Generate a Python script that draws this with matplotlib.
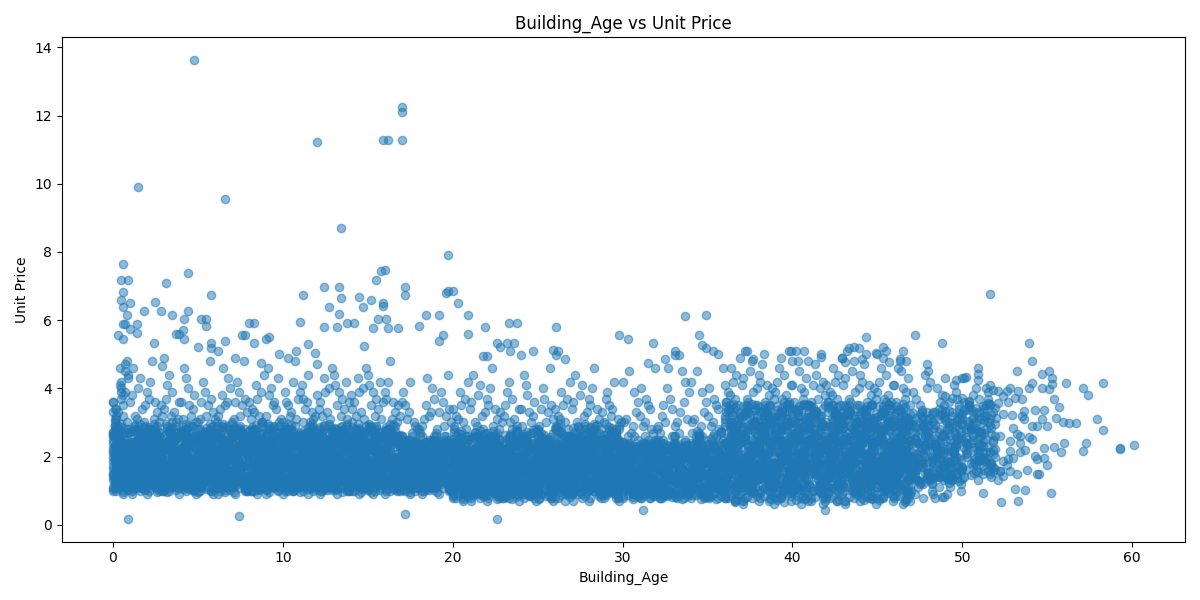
import matplotlib
matplotlib.use("Agg")
import matplotlib.pyplot as plt

# ---- Building_Age 0-5 ----
age_00_05 = [
    0.0,0.3,0.7,0.1,0.5,0.9,0.2,0.6,0.8,0.4,0.1,0.4,0.8,0.0,0.6,0.3,0.9,0.5,0.2,0.7,0.5,0.2,0.9,0.6,0.0,0.8,0.3,0.7,0.1,0.4,0.6,0.0,0.4,0.8,0.2,0.7,0.1,0.9,0.3,0.5,0.5,0.1,0.8,0.3,0.6,0.0,0.9,0.4,0.7,0.2,
    1.2,1.6,1.0,1.9,1.4,1.7,1.1,1.5,1.8,1.3,1.7,1.0,1.4,1.2,1.9,1.6,1.3,1.8,1.5,1.1,1.3,1.8,1.6,1.1,1.7,1.4,1.0,1.9,1.2,1.5,1.9,1.4,1.1,1.6,1.3,1.0,1.8,1.5,1.7,1.2,1.4,1.9,1.2,1.7,1.0,1.5,1.8,1.3,1.6,1.1,
    2.0,2.3,2.7,2.1,2.5,2.9,2.2,2.6,2.8,2.4,2.1,2.4,2.8,2.0,2.6,2.3,2.9,2.5,2.2,2.7,2.5,2.2,2.9,2.6,2.0,2.8,2.3,2.7,2.1,2.4,2.6,2.0,2.4,2.8,2.2,2.7,2.1,2.9,2.3,2.5,2.5,2.1,2.8,2.3,2.6,2.0,2.9,2.4,2.7,2.2,
    3.2,3.6,3.0,3.9,3.4,3.7,3.1,3.5,3.8,3.3,3.7,3.0,3.4,3.2,3.9,3.6,3.3,3.8,3.5,3.1,3.3,3.8,3.6,3.1,3.7,3.4,3.0,3.9,3.2,3.5,3.9,3.4,3.1,3.6,3.3,3.0,3.8,3.5,3.7,3.2,3.4,3.9,3.2,3.7,3.0,3.5,3.8,3.3,3.6,3.1,
    4.0,4.3,4.7,4.1,4.5,4.9,4.2,4.6,4.8,4.4,4.1,4.4,4.8,4.0,4.6,4.3,4.9,4.5,4.2,4.7,4.5,4.2,4.9,4.6,4.0,4.8,4.3,4.7,4.1,4.4,4.6,4.0,4.4,4.8,4.2,4.7,4.1,4.9,4.3,4.5,4.5,4.1,4.8,4.3,4.6,4.0,4.9,4.4,4.7,4.2,
]
price_00_05 = [
    1.0,1.8,2.5,1.3,2.1,2.8,1.6,0.9,2.3,1.9,1.2,2.6,1.5,2.0,1.1,2.9,1.7,2.4,1.4,2.2,1.9,1.0,2.7,1.6,2.1,1.3,2.5,1.8,3.0,1.5,3.2,3.6,4.1,3.0,3.4,3.9,3.1,4.4,3.3,3.7,1.6,2.3,1.2,2.0,2.7,1.4,1.9,2.5,1.1,2.2,
    1.4,2.2,1.1,2.7,1.7,2.0,0.9,2.4,1.5,2.9,1.8,1.2,2.5,1.6,2.1,1.0,2.8,1.9,1.3,2.3,1.6,2.6,1.1,2.0,1.4,2.2,1.7,2.9,1.2,1.8,3.5,3.1,3.8,4.3,3.2,3.6,3.0,4.0,3.4,4.6,1.9,1.3,2.4,1.7,1.1,2.1,2.6,1.5,2.0,1.2,
    2.0,1.3,2.6,1.0,1.8,2.3,1.5,2.9,1.1,1.7,2.4,1.4,2.1,0.9,1.9,2.7,1.2,1.6,2.5,2.0,1.3,2.8,1.7,1.1,2.2,1.5,2.4,1.0,1.9,2.6,3.3,3.9,3.1,3.5,4.2,3.0,3.7,3.2,4.8,3.6,1.5,2.1,1.8,2.5,1.3,2.2,1.0,1.7,2.4,2.8,
    1.2,2.6,1.5,2.0,1.1,2.9,1.7,2.4,1.4,2.2,1.9,1.0,2.7,1.6,2.1,1.3,2.5,1.8,3.0,1.5,1.0,1.8,2.5,1.3,2.1,2.8,1.6,0.9,2.3,1.9,1.6,2.3,1.2,2.0,2.7,1.4,1.9,2.5,1.1,2.2,3.2,3.6,4.1,3.0,3.4,3.9,3.1,4.4,3.3,3.7,
    1.6,2.6,1.1,2.0,1.4,2.2,1.7,2.9,1.2,1.8,1.4,2.2,1.1,2.7,1.7,2.0,0.9,2.4,1.5,2.9,1.8,1.2,2.5,1.6,2.1,1.0,2.8,1.9,1.3,2.3,1.9,1.3,2.4,1.7,1.1,2.1,2.6,1.5,2.0,1.2,3.5,3.1,3.8,4.3,3.2,3.6,3.0,4.0,3.4,4.6,
]
extra_price_00_05 = [
    1.05,1.72,2.38,1.24,2.86,1.57,2.13,0.96,1.91,2.52,1.38,2.27,1.12,2.71,1.66,2.04,1.45,2.95,1.83,1.18,2.44,1.52,2.19,1.01,2.63,1.77,1.31,2.34,1.96,2.78,1.15,1.88,2.57,1.42,2.09,1.63,2.91,1.27,2.22,1.70,2.48,1.08,1.99,2.66,1.35,2.15,1.59,2.41,1.86,2.83,
    2.31,1.14,1.87,2.64,1.43,2.08,0.98,2.49,1.69,2.92,1.26,2.17,1.58,2.76,1.03,1.94,2.39,1.49,2.58,1.79,1.21,2.87,1.62,2.26,1.09,2.04,1.74,2.53,1.33,2.69,1.97,1.18,2.43,1.55,2.81,1.39,2.12,1.84,2.61,1.06,1.68,2.35,1.29,2.74,1.92,1.47,2.21,1.11,2.97,1.76,
    1.61,2.44,1.19,2.07,2.83,1.36,1.92,2.59,1.04,2.28,1.73,2.96,1.48,2.16,1.27,2.67,1.85,1.13,2.37,1.58,2.74,1.41,2.02,0.97,2.51,1.66,2.19,1.31,2.88,1.79,2.11,1.53,2.62,1.23,1.96,2.42,1.07,1.71,2.33,2.79,1.44,2.06,1.88,1.16,2.55,1.34,2.25,1.64,2.71,1.99,
    2.83,1.86,2.41,1.59,2.15,1.35,2.66,1.99,1.08,2.48,1.70,2.22,1.27,2.91,1.63,2.09,1.42,2.57,1.88,1.15,2.78,1.96,2.34,1.31,1.77,2.63,1.01,2.19,1.52,2.44,1.18,1.83,2.95,1.45,2.04,1.66,2.71,1.12,2.27,1.38,2.52,1.91,0.96,2.13,1.57,2.86,1.24,2.38,1.72,1.05,
    1.76,2.97,1.11,2.21,1.47,1.92,2.74,1.29,2.35,1.68,1.06,2.61,1.84,2.12,1.39,2.81,1.55,2.43,1.18,1.97,2.69,1.33,2.53,1.74,2.04,1.09,2.26,1.62,2.87,1.21,1.79,2.58,1.49,2.39,1.94,1.03,2.76,1.58,2.17,1.26,2.92,1.69,2.49,0.98,2.08,1.43,2.64,1.87,1.14,2.31,
]
dense_price_00_05 = [
    1.48,2.12,1.21,2.63,1.84,1.02,2.37,1.66,2.01,1.29,2.55,1.73,1.12,2.24,1.91,1.39,2.72,1.57,2.06,1.17,2.46,1.81,1.34,2.18,1.63,2.81,1.08,1.95,2.31,1.44,1.76,2.59,1.25,2.09,1.53,2.41,1.87,1.14,2.68,1.61,2.27,1.36,1.98,2.52,1.19,1.71,2.35,1.47,2.14,1.89,
    2.04,1.31,2.57,1.78,1.09,2.29,1.56,2.76,1.42,1.93,1.22,2.44,1.69,2.11,1.37,2.66,1.83,1.05,2.33,1.61,1.97,1.27,2.49,1.74,2.19,1.45,2.71,1.16,1.88,2.38,1.52,2.02,1.33,2.61,1.79,1.11,2.26,1.64,2.53,1.43,1.86,2.15,1.24,2.47,1.58,2.79,1.35,1.99,1.68,2.21,
    1.87,2.49,1.13,1.71,2.28,1.46,2.64,1.04,2.07,1.59,2.36,1.28,1.95,2.74,1.51,1.18,2.21,1.77,2.56,1.39,1.66,2.42,1.07,2.13,1.83,2.69,1.32,1.98,1.49,2.31,1.15,2.58,1.74,2.03,1.41,2.47,1.23,1.89,2.77,1.62,2.17,1.36,2.52,1.94,1.26,2.39,1.55,2.08,1.81,2.63,
    1.48,2.12,1.21,2.63,1.84,1.02,2.37,1.66,2.01,1.29,2.55,1.73,1.12,2.24,1.91,1.39,2.72,1.57,2.06,1.17,2.46,1.81,1.34,2.18,1.63,2.81,1.08,1.95,2.31,1.44,1.76,2.59,1.25,2.09,1.53,2.41,1.87,1.14,2.68,1.61,2.27,1.36,1.98,2.52,1.19,1.71,2.35,1.47,2.14,1.89,
    2.04,1.31,2.57,1.78,1.09,2.29,1.56,2.76,1.42,1.93,1.22,2.44,1.69,2.11,1.37,2.66,1.83,1.05,2.33,1.61,1.97,1.27,2.49,1.74,2.19,1.45,2.71,1.16,1.88,2.38,1.52,2.02,1.33,2.61,1.79,1.11,2.26,1.64,2.53,1.43,1.86,2.15,1.24,2.47,1.58,2.79,1.35,1.99,1.68,2.21,
]

# ---- Building_Age 5-10 ----
age_05_10 = [
    5.2,5.6,5.0,5.9,5.4,5.7,5.1,5.5,5.8,5.3,5.7,5.0,5.4,5.2,5.9,5.6,5.3,5.8,5.5,5.1,5.3,5.8,5.6,5.1,5.7,5.4,5.0,5.9,5.2,5.5,5.9,5.4,5.1,5.6,5.3,5.0,5.8,5.5,5.7,5.2,5.4,5.9,5.2,5.7,5.0,5.5,5.8,5.3,5.6,5.1,
    6.0,6.3,6.7,6.1,6.5,6.9,6.2,6.6,6.8,6.4,6.1,6.4,6.8,6.0,6.6,6.3,6.9,6.5,6.2,6.7,6.5,6.2,6.9,6.6,6.0,6.8,6.3,6.7,6.1,6.4,6.6,6.0,6.4,6.8,6.2,6.7,6.1,6.9,6.3,6.5,6.5,6.1,6.8,6.3,6.6,6.0,6.9,6.4,6.7,6.2,
    7.2,7.6,7.0,7.9,7.4,7.7,7.1,7.5,7.8,7.3,7.7,7.0,7.4,7.2,7.9,7.6,7.3,7.8,7.5,7.1,7.3,7.8,7.6,7.1,7.7,7.4,7.0,7.9,7.2,7.5,7.9,7.4,7.1,7.6,7.3,7.0,7.8,7.5,7.7,7.2,7.4,7.9,7.2,7.7,7.0,7.5,7.8,7.3,7.6,7.1,
    8.0,8.3,8.7,8.1,8.5,8.9,8.2,8.6,8.8,8.4,8.1,8.4,8.8,8.0,8.6,8.3,8.9,8.5,8.2,8.7,8.5,8.2,8.9,8.6,8.0,8.8,8.3,8.7,8.1,8.4,8.6,8.0,8.4,8.8,8.2,8.7,8.1,8.9,8.3,8.5,8.5,8.1,8.8,8.3,8.6,8.0,8.9,8.4,8.7,8.2,
    9.2,9.6,9.0,9.9,9.4,9.7,9.1,9.5,9.8,9.3,9.7,9.0,9.4,9.2,9.9,9.6,9.3,9.8,9.5,9.1,9.3,9.8,9.6,9.1,9.7,9.4,9.0,9.9,9.2,9.5,9.9,9.4,9.1,9.6,9.3,9.0,9.8,9.5,9.7,9.2,9.4,9.9,9.2,9.7,9.0,9.5,9.8,9.3,9.6,9.1,
]
price_05_10 = [
    2.4,1.4,2.1,0.9,1.9,2.7,1.2,1.6,2.5,2.0,1.3,2.8,1.7,1.1,2.2,1.5,2.4,1.0,1.9,2.6,2.0,1.3,2.6,1.0,1.8,2.3,1.5,2.9,1.1,1.7,3.3,3.9,3.1,3.5,4.2,3.0,3.7,3.2,4.8,3.6,1.5,2.1,1.8,2.5,1.3,2.2,1.0,1.7,2.4,2.8,
    1.4,2.2,1.1,2.7,1.7,2.0,0.9,2.4,1.5,2.9,1.8,1.2,2.5,1.6,2.1,1.0,2.8,1.9,1.3,2.3,1.6,2.6,1.1,2.0,1.4,2.2,1.7,2.9,1.2,1.8,3.5,3.1,3.8,4.3,3.2,3.6,3.0,4.0,3.4,4.6,1.9,1.3,2.4,1.7,1.1,2.1,2.6,1.5,2.0,1.2,
    2.0,1.3,2.6,1.0,1.8,2.3,1.5,2.9,1.1,1.7,2.4,1.4,2.1,0.9,1.9,2.7,1.2,1.6,2.5,2.0,1.3,2.8,1.7,1.1,2.2,1.5,2.4,1.0,1.9,2.6,3.3,3.9,3.1,3.5,4.2,3.0,3.7,3.2,4.8,3.6,1.5,2.1,1.8,2.5,1.3,2.2,1.0,1.7,2.4,2.8,
    1.9,1.0,2.7,1.6,2.1,1.3,2.5,1.8,3.0,1.5,1.0,1.8,2.5,1.3,2.1,2.8,1.6,0.9,2.3,1.9,1.2,2.6,1.5,2.0,1.1,2.9,1.7,2.4,1.4,2.2,3.2,3.6,4.1,3.0,3.4,3.9,3.1,4.4,3.3,3.7,1.6,2.3,1.2,2.0,2.7,1.4,1.9,2.5,1.1,2.2,
    1.8,1.2,2.5,1.6,2.1,1.0,2.8,1.9,1.3,2.3,1.6,2.6,1.1,2.0,1.4,2.2,1.7,2.9,1.2,1.8,1.4,2.2,1.1,2.7,1.7,2.0,0.9,2.4,1.5,2.9,1.9,1.3,2.4,1.7,1.1,2.1,2.6,1.5,2.0,1.2,3.5,3.1,3.8,4.3,3.2,3.6,3.0,4.0,3.4,4.6,
]
extra_price_05_10 = [
    1.99,2.71,1.64,2.25,1.34,2.55,1.16,1.88,2.06,1.44,2.79,2.33,1.71,1.07,2.42,1.96,1.23,2.62,1.53,2.11,1.79,2.88,1.31,2.19,1.66,2.51,0.97,2.02,1.41,2.74,1.58,2.37,1.13,1.85,2.67,1.27,2.16,1.48,2.96,1.73,2.28,1.04,2.59,1.92,1.36,2.83,2.07,1.19,2.44,1.61,
    1.05,1.72,2.38,1.24,2.86,1.57,2.13,0.96,1.91,2.52,1.38,2.27,1.12,2.71,1.66,2.04,1.45,2.95,1.83,1.18,2.44,1.52,2.19,1.01,2.63,1.77,1.31,2.34,1.96,2.78,1.15,1.88,2.57,1.42,2.09,1.63,2.91,1.27,2.22,1.70,2.48,1.08,1.99,2.66,1.35,2.15,1.59,2.41,1.86,2.83,
    1.61,2.44,1.19,2.07,2.83,1.36,1.92,2.59,1.04,2.28,1.73,2.96,1.48,2.16,1.27,2.67,1.85,1.13,2.37,1.58,2.74,1.41,2.02,0.97,2.51,1.66,2.19,1.31,2.88,1.79,2.11,1.53,2.62,1.23,1.96,2.42,1.07,1.71,2.33,2.79,1.44,2.06,1.88,1.16,2.55,1.34,2.25,1.64,2.71,1.99,
    2.31,1.14,1.87,2.64,1.43,2.08,0.98,2.49,1.69,2.92,1.26,2.17,1.58,2.76,1.03,1.94,2.39,1.49,2.58,1.79,1.21,2.87,1.62,2.26,1.09,2.04,1.74,2.53,1.33,2.69,1.97,1.18,2.43,1.55,2.81,1.39,2.12,1.84,2.61,1.06,1.68,2.35,1.29,2.74,1.92,1.47,2.21,1.11,2.97,1.76,
    2.83,1.86,2.41,1.59,2.15,1.35,2.66,1.99,1.08,2.48,1.70,2.22,1.27,2.91,1.63,2.09,1.42,2.57,1.88,1.15,2.78,1.96,2.34,1.31,1.77,2.63,1.01,2.19,1.52,2.44,1.18,1.83,2.95,1.45,2.04,1.66,2.71,1.12,2.27,1.38,2.52,1.91,0.96,2.13,1.57,2.86,1.24,2.38,1.72,1.05,
]
dense_price_05_10 = [
    1.87,2.49,1.13,1.71,2.28,1.46,2.64,1.04,2.07,1.59,2.36,1.28,1.95,2.74,1.51,1.18,2.21,1.77,2.56,1.39,1.66,2.42,1.07,2.13,1.83,2.69,1.32,1.98,1.49,2.31,1.15,2.58,1.74,2.03,1.41,2.47,1.23,1.89,2.77,1.62,2.17,1.36,2.52,1.94,1.26,2.39,1.55,2.08,1.81,2.63,
    1.48,2.12,1.21,2.63,1.84,1.02,2.37,1.66,2.01,1.29,2.55,1.73,1.12,2.24,1.91,1.39,2.72,1.57,2.06,1.17,2.46,1.81,1.34,2.18,1.63,2.81,1.08,1.95,2.31,1.44,1.76,2.59,1.25,2.09,1.53,2.41,1.87,1.14,2.68,1.61,2.27,1.36,1.98,2.52,1.19,1.71,2.35,1.47,2.14,1.89,
    2.04,1.31,2.57,1.78,1.09,2.29,1.56,2.76,1.42,1.93,1.22,2.44,1.69,2.11,1.37,2.66,1.83,1.05,2.33,1.61,1.97,1.27,2.49,1.74,2.19,1.45,2.71,1.16,1.88,2.38,1.52,2.02,1.33,2.61,1.79,1.11,2.26,1.64,2.53,1.43,1.86,2.15,1.24,2.47,1.58,2.79,1.35,1.99,1.68,2.21,
    1.87,2.49,1.13,1.71,2.28,1.46,2.64,1.04,2.07,1.59,2.36,1.28,1.95,2.74,1.51,1.18,2.21,1.77,2.56,1.39,1.66,2.42,1.07,2.13,1.83,2.69,1.32,1.98,1.49,2.31,1.15,2.58,1.74,2.03,1.41,2.47,1.23,1.89,2.77,1.62,2.17,1.36,2.52,1.94,1.26,2.39,1.55,2.08,1.81,2.63,
    1.48,2.12,1.21,2.63,1.84,1.02,2.37,1.66,2.01,1.29,2.55,1.73,1.12,2.24,1.91,1.39,2.72,1.57,2.06,1.17,2.46,1.81,1.34,2.18,1.63,2.81,1.08,1.95,2.31,1.44,1.76,2.59,1.25,2.09,1.53,2.41,1.87,1.14,2.68,1.61,2.27,1.36,1.98,2.52,1.19,1.71,2.35,1.47,2.14,1.89,
]

# ---- Building_Age 10-15 ----
age_10_15 = [
    10.0,10.3,10.7,10.1,10.5,10.9,10.2,10.6,10.8,10.4,10.1,10.4,10.8,10.0,10.6,10.3,10.9,10.5,10.2,10.7,10.5,10.2,10.9,10.6,10.0,10.8,10.3,10.7,10.1,10.4,10.6,10.0,10.4,10.8,10.2,10.7,10.1,10.9,10.3,10.5,10.5,10.1,10.8,10.3,10.6,10.0,10.9,10.4,10.7,10.2,
    11.2,11.6,11.0,11.9,11.4,11.7,11.1,11.5,11.8,11.3,11.7,11.0,11.4,11.2,11.9,11.6,11.3,11.8,11.5,11.1,11.3,11.8,11.6,11.1,11.7,11.4,11.0,11.9,11.2,11.5,11.9,11.4,11.1,11.6,11.3,11.0,11.8,11.5,11.7,11.2,11.4,11.9,11.2,11.7,11.0,11.5,11.8,11.3,11.6,11.1,
    12.0,12.3,12.7,12.1,12.5,12.9,12.2,12.6,12.8,12.4,12.1,12.4,12.8,12.0,12.6,12.3,12.9,12.5,12.2,12.7,12.5,12.2,12.9,12.6,12.0,12.8,12.3,12.7,12.1,12.4,12.6,12.0,12.4,12.8,12.2,12.7,12.1,12.9,12.3,12.5,12.5,12.1,12.8,12.3,12.6,12.0,12.9,12.4,12.7,12.2,
    13.2,13.6,13.0,13.9,13.4,13.7,13.1,13.5,13.8,13.3,13.7,13.0,13.4,13.2,13.9,13.6,13.3,13.8,13.5,13.1,13.3,13.8,13.6,13.1,13.7,13.4,13.0,13.9,13.2,13.5,13.9,13.4,13.1,13.6,13.3,13.0,13.8,13.5,13.7,13.2,13.4,13.9,13.2,13.7,13.0,13.5,13.8,13.3,13.6,13.1,
    14.0,14.3,14.7,14.1,14.5,14.9,14.2,14.6,14.8,14.4,14.1,14.4,14.8,14.0,14.6,14.3,14.9,14.5,14.2,14.7,14.5,14.2,14.9,14.6,14.0,14.8,14.3,14.7,14.1,14.4,14.6,14.0,14.4,14.8,14.2,14.7,14.1,14.9,14.3,14.5,14.5,14.1,14.8,14.3,14.6,14.0,14.9,14.4,14.7,14.2,
]
price_10_15 = [
    1.3,2.8,1.7,1.1,2.2,1.5,2.4,1.0,1.9,2.6,2.4,1.4,2.1,0.9,1.9,2.7,1.2,1.6,2.5,2.0,2.0,1.3,2.6,1.0,1.8,2.3,1.5,2.9,1.1,1.7,1.5,2.1,1.8,2.5,1.3,2.2,1.0,1.7,2.4,2.8,3.3,3.9,3.1,3.5,4.2,3.0,3.7,3.2,4.8,3.6,
    1.0,1.8,2.5,1.3,2.1,2.8,1.6,0.9,2.3,1.9,1.2,2.6,1.5,2.0,1.1,2.9,1.7,2.4,1.4,2.2,1.9,1.0,2.7,1.6,2.1,1.3,2.5,1.8,3.0,1.5,3.2,3.6,4.1,3.0,3.4,3.9,3.1,4.4,3.3,3.7,1.6,2.3,1.2,2.0,2.7,1.4,1.9,2.5,1.1,2.2,
    1.4,2.2,1.1,2.7,1.7,2.0,0.9,2.4,1.5,2.9,1.8,1.2,2.5,1.6,2.1,1.0,2.8,1.9,1.3,2.3,1.6,2.6,1.1,2.0,1.4,2.2,1.7,2.9,1.2,1.8,3.3,3.8,4.3,3.1,3.6,4.0,3.4,4.6,3.2,3.9,1.9,1.3,2.4,1.7,1.1,2.1,2.6,1.5,2.0,1.2,
    2.0,1.3,2.6,1.0,1.8,2.3,1.5,2.9,1.1,1.7,2.4,1.4,2.1,0.9,1.9,2.7,1.2,1.6,2.5,2.0,1.3,2.8,1.7,1.1,2.2,1.5,2.4,1.0,1.9,2.6,3.6,3.2,4.1,3.4,3.9,4.4,3.1,3.7,4.2,3.5,1.5,2.1,1.8,2.5,1.3,2.2,1.0,1.7,2.4,2.8,
    1.2,2.6,1.5,2.0,1.1,2.9,1.7,2.4,1.4,2.2,1.0,1.8,2.5,1.3,2.1,2.8,1.6,0.9,2.3,1.9,1.9,1.0,2.7,1.6,2.1,1.3,2.5,1.8,3.0,1.5,3.3,3.8,4.3,3.1,3.6,4.0,3.4,4.6,3.2,3.9,1.6,2.3,1.2,2.0,2.7,1.4,1.9,2.5,1.1,2.2,
]
extra_price_10_15 = [
    1.76,2.97,1.11,2.21,1.47,1.92,2.74,1.29,2.35,1.68,1.06,2.61,1.84,2.12,1.39,2.81,1.55,2.43,1.18,1.97,2.69,1.33,2.53,1.74,2.04,1.09,2.26,1.62,2.87,1.21,1.79,2.58,1.49,2.39,1.94,1.03,2.76,1.58,2.17,1.26,2.92,1.69,2.49,0.98,2.08,1.43,2.64,1.87,1.14,2.31,
    1.99,2.71,1.64,2.25,1.34,2.55,1.16,1.88,2.06,1.44,2.79,2.33,1.71,1.07,2.42,1.96,1.23,2.62,1.53,2.11,1.79,2.88,1.31,2.19,1.66,2.51,0.97,2.02,1.41,2.74,1.58,2.37,1.13,1.85,2.67,1.27,2.16,1.48,2.96,1.73,2.28,1.04,2.59,1.92,1.36,2.83,2.07,1.19,2.44,1.61,
    2.31,1.14,1.87,2.64,1.43,2.08,0.98,2.49,1.69,2.92,1.26,2.17,1.58,2.76,1.03,1.94,2.39,1.49,2.58,1.79,1.21,2.87,1.62,2.26,1.09,2.04,1.74,2.53,1.33,2.69,1.97,1.18,2.43,1.55,2.81,1.39,2.12,1.84,2.61,1.06,1.68,2.35,1.29,2.74,1.92,1.47,2.21,1.11,2.97,1.76,
    1.05,1.72,2.38,1.24,2.86,1.57,2.13,0.96,1.91,2.52,1.38,2.27,1.12,2.71,1.66,2.04,1.45,2.95,1.83,1.18,2.44,1.52,2.19,1.01,2.63,1.77,1.31,2.34,1.96,2.78,1.15,1.88,2.57,1.42,2.09,1.63,2.91,1.27,2.22,1.70,2.48,1.08,1.99,2.66,1.35,2.15,1.59,2.41,1.86,2.83,
    1.61,2.44,1.19,2.07,2.83,1.36,1.92,2.59,1.04,2.28,1.73,2.96,1.48,2.16,1.27,2.67,1.85,1.13,2.37,1.58,2.74,1.41,2.02,0.97,2.51,1.66,2.19,1.31,2.88,1.79,2.11,1.53,2.62,1.23,1.96,2.42,1.07,1.71,2.33,2.79,1.44,2.06,1.88,1.16,2.55,1.34,2.25,1.64,2.71,1.99,
]
dense_price_10_15 = [
    2.04,1.31,2.57,1.78,1.09,2.29,1.56,2.76,1.42,1.93,1.22,2.44,1.69,2.11,1.37,2.66,1.83,1.05,2.33,1.61,1.97,1.27,2.49,1.74,2.19,1.45,2.71,1.16,1.88,2.38,1.52,2.02,1.33,2.61,1.79,1.11,2.26,1.64,2.53,1.43,1.86,2.15,1.24,2.47,1.58,2.79,1.35,1.99,1.68,2.21,
    1.87,2.49,1.13,1.71,2.28,1.46,2.64,1.04,2.07,1.59,2.36,1.28,1.95,2.74,1.51,1.18,2.21,1.77,2.56,1.39,1.66,2.42,1.07,2.13,1.83,2.69,1.32,1.98,1.49,2.31,1.15,2.58,1.74,2.03,1.41,2.47,1.23,1.89,2.77,1.62,2.17,1.36,2.52,1.94,1.26,2.39,1.55,2.08,1.81,2.63,
    1.48,2.12,1.21,2.63,1.84,1.02,2.37,1.66,2.01,1.29,2.55,1.73,1.12,2.24,1.91,1.39,2.72,1.57,2.06,1.17,2.46,1.81,1.34,2.18,1.63,2.81,1.08,1.95,2.31,1.44,1.76,2.59,1.25,2.09,1.53,2.41,1.87,1.14,2.68,1.61,2.27,1.36,1.98,2.52,1.19,1.71,2.35,1.47,2.14,1.89,
    2.04,1.31,2.57,1.78,1.09,2.29,1.56,2.76,1.42,1.93,1.22,2.44,1.69,2.11,1.37,2.66,1.83,1.05,2.33,1.61,1.97,1.27,2.49,1.74,2.19,1.45,2.71,1.16,1.88,2.38,1.52,2.02,1.33,2.61,1.79,1.11,2.26,1.64,2.53,1.43,1.86,2.15,1.24,2.47,1.58,2.79,1.35,1.99,1.68,2.21,
    1.87,2.49,1.13,1.71,2.28,1.46,2.64,1.04,2.07,1.59,2.36,1.28,1.95,2.74,1.51,1.18,2.21,1.77,2.56,1.39,1.66,2.42,1.07,2.13,1.83,2.69,1.32,1.98,1.49,2.31,1.15,2.58,1.74,2.03,1.41,2.47,1.23,1.89,2.77,1.62,2.17,1.36,2.52,1.94,1.26,2.39,1.55,2.08,1.81,2.63,
]

# ---- Building_Age 15-20 ----
age_15_20 = [
    15.2,15.6,15.0,15.9,15.4,15.7,15.1,15.5,15.8,15.3,15.7,15.0,15.4,15.2,15.9,15.6,15.3,15.8,15.5,15.1,15.3,15.8,15.6,15.1,15.7,15.4,15.0,15.9,15.2,15.5,15.9,15.4,15.1,15.6,15.3,15.0,15.8,15.5,15.7,15.2,15.4,15.9,15.2,15.7,15.0,15.5,15.8,15.3,15.6,15.1,
    16.0,16.3,16.7,16.1,16.5,16.9,16.2,16.6,16.8,16.4,16.1,16.4,16.8,16.0,16.6,16.3,16.9,16.5,16.2,16.7,16.5,16.2,16.9,16.6,16.0,16.8,16.3,16.7,16.1,16.4,16.6,16.0,16.4,16.8,16.2,16.7,16.1,16.9,16.3,16.5,16.5,16.1,16.8,16.3,16.6,16.0,16.9,16.4,16.7,16.2,
    17.2,17.6,17.0,17.9,17.4,17.7,17.1,17.5,17.8,17.3,17.7,17.0,17.4,17.2,17.9,17.6,17.3,17.8,17.5,17.1,17.3,17.8,17.6,17.1,17.7,17.4,17.0,17.9,17.2,17.5,17.9,17.4,17.1,17.6,17.3,17.0,17.8,17.5,17.7,17.2,17.4,17.9,17.2,17.7,17.0,17.5,17.8,17.3,17.6,17.1,
    18.0,18.3,18.7,18.1,18.5,18.9,18.2,18.6,18.8,18.4,18.1,18.4,18.8,18.0,18.6,18.3,18.9,18.5,18.2,18.7,18.5,18.2,18.9,18.6,18.0,18.8,18.3,18.7,18.1,18.4,18.6,18.0,18.4,18.8,18.2,18.7,18.1,18.9,18.3,18.5,18.5,18.1,18.8,18.3,18.6,18.0,18.9,18.4,18.7,18.2,
    19.2,19.6,19.0,19.9,19.4,19.7,19.1,19.5,19.8,19.3,19.7,19.0,19.4,19.2,19.9,19.6,19.3,19.8,19.5,19.1,19.3,19.8,19.6,19.1,19.7,19.4,19.0,19.9,19.2,19.5,19.9,19.4,19.1,19.6,19.3,19.0,19.8,19.5,19.7,19.2,19.4,19.9,19.2,19.7,19.0,19.5,19.8,19.3,19.6,19.1,
]
price_15_20 = [
    1.6,2.6,1.1,2.0,1.4,2.2,1.7,2.9,1.2,1.8,1.4,2.2,1.1,2.7,1.7,2.0,0.9,2.4,1.5,2.9,1.8,1.2,2.5,1.6,2.1,1.0,2.8,1.9,1.3,2.3,3.6,3.2,4.1,3.4,3.9,4.4,3.1,3.7,4.2,3.5,1.9,1.3,2.4,1.7,1.1,2.1,2.6,1.5,2.0,1.2,
    2.0,1.3,2.6,1.0,1.8,2.3,1.5,2.9,1.1,1.7,2.4,1.4,2.1,0.9,1.9,2.7,1.2,1.6,2.5,2.0,1.3,2.8,1.7,1.1,2.2,1.5,2.4,1.0,1.9,2.6,3.3,3.9,3.1,3.5,4.2,3.0,3.7,3.2,4.8,3.6,1.5,2.1,1.8,2.5,1.3,2.2,1.0,1.7,2.4,2.8,
    1.0,1.8,2.5,1.3,2.1,2.4,1.6,0.9,2.3,1.9,1.2,2.6,1.5,2.0,1.1,2.3,1.7,2.4,1.4,2.2,1.9,1.0,2.6,1.6,2.1,1.3,2.5,1.8,2.5,1.5,2.8,3.3,3.9,2.7,3.1,3.6,2.9,4.2,3.0,3.5,1.6,2.3,1.2,2.0,2.6,1.4,1.9,2.5,1.1,2.2,
    1.4,2.2,1.1,2.6,1.7,2.0,0.9,2.4,1.5,2.3,1.8,1.2,2.5,1.6,2.1,1.0,2.4,1.9,1.3,2.3,1.6,2.6,1.1,2.0,1.4,2.2,1.7,2.3,1.2,1.8,3.2,2.8,3.5,4.0,2.9,3.3,2.7,3.7,3.1,4.3,1.9,1.3,2.4,1.7,1.1,2.1,2.6,1.5,2.0,1.2,
    2.0,1.3,2.6,1.0,1.8,2.3,1.5,2.3,1.1,1.7,2.4,1.4,2.1,0.9,1.9,2.6,1.2,1.6,2.5,2.0,1.3,2.4,1.7,1.1,2.2,1.5,2.4,1.0,1.9,2.6,3.0,3.6,2.8,3.2,3.9,2.7,3.4,2.9,4.4,3.3,1.5,2.1,1.8,2.5,1.3,2.2,1.0,1.7,2.4,2.5,
]
extra_price_15_20 = [
    2.83,1.86,2.41,1.59,2.15,1.35,2.66,1.99,1.08,2.48,1.70,2.22,1.27,2.91,1.63,2.09,1.42,2.57,1.88,1.15,2.78,1.96,2.34,1.31,1.77,2.63,1.01,2.19,1.52,2.44,1.18,1.83,2.95,1.45,2.04,1.66,2.71,1.12,2.27,1.38,2.52,1.91,0.96,2.13,1.57,2.86,1.24,2.38,1.72,1.05,
    1.76,2.97,1.11,2.21,1.47,1.92,2.74,1.29,2.35,1.68,1.06,2.61,1.84,2.12,1.39,2.81,1.55,2.43,1.18,1.97,2.69,1.33,2.53,1.74,2.04,1.09,2.26,1.62,2.87,1.21,1.79,2.58,1.49,2.39,1.94,1.03,2.76,1.58,2.17,1.26,2.92,1.69,2.49,0.98,2.08,1.43,2.64,1.87,1.14,2.31,
    1.05,1.72,2.38,1.24,2.36,1.57,2.13,0.96,1.91,2.02,1.38,2.27,1.12,2.21,1.66,2.04,1.45,2.45,1.83,1.18,2.44,1.52,2.19,1.01,2.13,1.77,1.31,2.34,1.96,2.28,1.15,1.88,2.07,1.42,2.09,1.63,2.41,1.27,2.22,1.70,2.48,1.08,1.99,2.16,1.35,2.15,1.59,2.41,1.86,2.33,
    2.31,1.14,1.87,2.14,1.43,2.08,0.98,2.49,1.69,2.42,1.26,2.17,1.58,2.26,1.03,1.94,2.39,1.49,2.08,1.79,1.21,2.37,1.62,2.26,1.09,2.04,1.74,2.03,1.33,2.19,1.97,1.18,2.43,1.55,2.31,1.39,2.12,1.84,2.11,1.06,1.68,2.35,1.29,2.24,1.92,1.47,2.21,1.11,2.47,1.76,
    1.61,2.44,1.19,2.07,2.33,1.36,1.92,2.09,1.04,2.28,1.73,2.46,1.48,2.16,1.27,2.17,1.85,1.13,2.37,1.58,2.24,1.41,2.02,0.97,2.01,1.66,2.19,1.31,2.38,1.79,2.11,1.53,2.12,1.23,1.96,2.42,1.07,1.71,2.33,2.29,1.44,2.06,1.88,1.16,2.05,1.34,2.25,1.64,2.21,1.99,
]
dense_price_15_20 = [
    1.48,2.12,1.21,2.63,1.84,1.02,2.37,1.66,2.01,1.29,2.55,1.73,1.12,2.24,1.91,1.39,2.72,1.57,2.06,1.17,2.46,1.81,1.34,2.18,1.63,2.81,1.08,1.95,2.31,1.44,1.76,2.59,1.25,2.09,1.53,2.41,1.87,1.14,2.68,1.61,2.27,1.36,1.98,2.52,1.19,1.71,2.35,1.47,2.14,1.89,
    2.04,1.31,2.57,1.78,1.09,2.29,1.56,2.76,1.42,1.93,1.22,2.44,1.69,2.11,1.37,2.66,1.83,1.05,2.33,1.61,1.97,1.27,2.49,1.74,2.19,1.45,2.71,1.16,1.88,2.38,1.52,2.02,1.33,2.61,1.79,1.11,2.26,1.64,2.53,1.43,1.86,2.15,1.24,2.47,1.58,2.79,1.35,1.99,1.68,2.21,
    1.87,2.09,1.13,1.71,2.28,1.46,2.24,1.04,2.07,1.59,2.36,1.28,1.95,2.34,1.51,1.18,2.21,1.77,2.16,1.39,1.66,2.42,1.07,2.13,1.83,2.29,1.32,1.98,1.49,2.31,1.15,2.18,1.74,2.03,1.41,2.07,1.23,1.89,2.37,1.62,2.17,1.36,2.12,1.94,1.26,2.39,1.55,2.08,1.81,2.23,
    1.48,2.12,1.21,2.23,1.84,1.02,2.37,1.66,2.01,1.29,2.15,1.73,1.12,2.24,1.91,1.39,2.32,1.57,2.06,1.17,2.06,1.81,1.34,2.18,1.63,2.41,1.08,1.95,2.31,1.44,1.76,2.19,1.25,2.09,1.53,2.41,1.87,1.14,2.28,1.61,2.27,1.36,1.98,2.12,1.19,1.71,2.35,1.47,2.14,1.89,
    2.04,1.31,2.17,1.78,1.09,2.29,1.56,2.36,1.42,1.93,1.22,2.44,1.69,2.11,1.37,2.26,1.83,1.05,2.33,1.61,1.97,1.27,2.09,1.74,2.19,1.45,2.31,1.16,1.88,2.38,1.52,2.02,1.33,2.21,1.79,1.11,2.26,1.64,2.13,1.43,1.86,2.15,1.24,2.07,1.58,2.39,1.35,1.99,1.68,2.21,
]

# ---- Building_Age 20-25 ----
age_20_25 = [
    20.0,20.3,20.7,20.1,20.5,20.9,20.2,20.6,20.8,20.4,20.1,20.4,20.8,20.0,20.6,20.3,20.9,20.5,20.2,20.7,20.5,20.2,20.9,20.6,20.0,20.8,20.3,20.7,20.1,20.4,20.6,20.0,20.4,20.8,20.2,20.7,20.1,20.9,20.3,20.5,20.5,20.1,20.8,20.3,20.6,20.0,20.9,20.4,20.7,20.2,
    21.2,21.6,21.0,21.9,21.4,21.7,21.1,21.5,21.8,21.3,21.7,21.0,21.4,21.2,21.9,21.6,21.3,21.8,21.5,21.1,21.3,21.8,21.6,21.1,21.7,21.4,21.0,21.9,21.2,21.5,21.9,21.4,21.1,21.6,21.3,21.0,21.8,21.5,21.7,21.2,21.4,21.9,21.2,21.7,21.0,21.5,21.8,21.3,21.6,21.1,
    22.0,22.3,22.7,22.1,22.5,22.9,22.2,22.6,22.8,22.4,22.1,22.4,22.8,22.0,22.6,22.3,22.9,22.5,22.2,22.7,22.5,22.2,22.9,22.6,22.0,22.8,22.3,22.7,22.1,22.4,22.6,22.0,22.4,22.8,22.2,22.7,22.1,22.9,22.3,22.5,22.5,22.1,22.8,22.3,22.6,22.0,22.9,22.4,22.7,22.2,
    23.2,23.6,23.0,23.9,23.4,23.7,23.1,23.5,23.8,23.3,23.7,23.0,23.4,23.2,23.9,23.6,23.3,23.8,23.5,23.1,23.3,23.8,23.6,23.1,23.7,23.4,23.0,23.9,23.2,23.5,23.9,23.4,23.1,23.6,23.3,23.0,23.8,23.5,23.7,23.2,23.4,23.9,23.2,23.7,23.0,23.5,23.8,23.3,23.6,23.1,
    24.0,24.3,24.7,24.1,24.5,24.9,24.2,24.6,24.8,24.4,24.1,24.4,24.8,24.0,24.6,24.3,24.9,24.5,24.2,24.7,24.5,24.2,24.9,24.6,24.0,24.8,24.3,24.7,24.1,24.4,24.6,24.0,24.4,24.8,24.2,24.7,24.1,24.9,24.3,24.5,24.5,24.1,24.8,24.3,24.6,24.0,24.9,24.4,24.7,24.2,
]
price_20_25 = [
    0.8,1.6,2.3,1.1,1.9,2.6,1.4,0.7,2.1,1.7,1.0,2.4,1.3,1.8,0.9,2.7,1.5,2.2,1.2,2.0,1.7,0.8,2.5,1.4,1.9,1.1,2.3,1.6,2.8,1.3,3.0,3.4,3.9,2.8,3.2,3.7,2.9,4.2,3.1,3.5,1.4,2.1,1.0,1.8,2.5,1.2,1.7,2.3,0.9,2.0,
    1.2,2.0,0.9,2.5,1.5,1.8,0.7,2.2,1.3,2.7,1.6,1.0,2.3,1.4,1.9,0.8,2.6,1.7,1.1,2.1,1.4,2.4,0.9,1.8,1.2,2.0,1.5,2.7,1.0,1.6,3.3,2.9,3.6,4.1,3.0,3.4,2.8,3.8,3.2,4.4,1.7,1.1,2.2,1.5,0.9,1.9,2.4,1.3,1.8,1.0,
    1.8,1.1,2.4,0.8,1.6,2.1,1.3,2.7,0.9,1.5,2.2,1.2,1.9,0.7,1.7,2.5,1.0,1.4,2.3,1.8,1.1,2.6,1.5,0.9,2.0,1.3,2.2,0.8,1.7,2.4,3.1,3.7,2.9,3.3,4.0,2.8,3.5,3.0,4.6,3.4,1.3,1.9,1.6,2.3,1.1,2.0,0.8,1.5,2.2,2.6,
    1.0,2.4,1.3,1.8,0.9,2.7,1.5,2.2,1.2,2.0,1.7,0.8,2.5,1.4,1.9,1.1,2.3,1.6,2.8,1.3,0.8,1.6,2.3,1.1,1.9,2.6,1.4,0.7,2.1,1.7,1.4,2.1,1.0,1.8,2.5,1.2,1.7,2.3,0.9,2.0,3.0,3.4,3.9,2.8,3.2,3.7,2.9,4.2,3.1,3.5,
    1.4,2.4,0.9,1.8,1.2,2.0,1.5,2.7,1.0,1.6,1.2,2.0,0.9,2.5,1.5,1.8,0.7,2.2,1.3,2.7,1.6,1.0,2.3,1.4,1.9,0.8,2.6,1.7,1.1,2.1,1.7,1.1,2.2,1.5,0.9,1.9,2.4,1.3,1.8,1.0,3.3,2.9,3.6,4.1,3.0,3.4,2.8,3.8,3.2,4.4,
]
extra_price_20_25 = [
    0.85,1.52,2.18,1.04,2.66,1.37,1.93,0.76,1.71,2.32,1.18,2.07,0.92,2.51,1.46,1.84,1.25,2.75,1.63,0.98,2.24,1.32,1.99,0.81,2.43,1.57,1.11,2.14,1.76,2.58,0.95,1.68,2.37,1.22,1.89,1.43,2.71,1.07,2.02,1.50,2.28,0.88,1.79,2.46,1.15,1.95,1.39,2.21,1.66,2.63,
    2.11,0.94,1.67,2.44,1.23,1.88,0.78,2.29,1.49,2.72,1.06,1.97,1.38,2.56,0.83,1.74,2.19,1.29,2.38,1.59,1.01,2.67,1.42,2.06,0.89,1.84,1.54,2.33,1.13,2.49,1.77,0.98,2.23,1.35,2.61,1.19,1.92,1.64,2.41,0.86,1.48,2.15,1.09,2.54,1.72,1.27,2.01,0.91,2.77,1.56,
    1.41,2.24,0.99,1.87,2.63,1.16,1.72,2.39,0.84,2.08,1.53,2.76,1.28,1.96,1.07,2.47,1.65,0.93,2.17,1.38,2.54,1.21,1.82,0.77,2.31,1.46,1.99,1.11,2.68,1.59,1.91,1.33,2.42,1.03,1.76,2.22,0.87,1.51,2.13,2.59,1.24,1.86,1.68,0.96,2.35,1.14,2.05,1.44,2.51,1.79,
    0.85,1.52,2.18,1.04,2.66,1.37,1.93,0.76,1.71,2.32,1.18,2.07,0.92,2.51,1.46,1.84,1.25,2.75,1.63,0.98,2.24,1.32,1.99,0.81,2.43,1.57,1.11,2.14,1.76,2.58,0.95,1.68,2.37,1.22,1.89,1.43,2.71,1.07,2.02,1.50,2.28,0.88,1.79,2.46,1.15,1.95,1.39,2.21,1.66,2.63,
    2.11,0.94,1.67,2.44,1.23,1.88,0.78,2.29,1.49,2.72,1.06,1.97,1.38,2.56,0.83,1.74,2.19,1.29,2.38,1.59,1.01,2.67,1.42,2.06,0.89,1.84,1.54,2.33,1.13,2.49,1.77,0.98,2.23,1.35,2.61,1.19,1.92,1.64,2.41,0.86,1.48,2.15,1.09,2.54,1.72,1.27,2.01,0.91,2.77,1.56,
]
dense_price_20_25 = [
    1.28,1.92,1.01,2.43,1.64,0.82,2.17,1.46,1.81,1.09,2.35,1.53,0.92,2.04,1.71,1.19,2.52,1.37,1.86,0.97,2.26,1.61,1.14,1.98,1.43,2.61,0.88,1.75,2.11,1.24,1.56,2.39,1.05,1.89,1.33,2.21,1.67,0.94,2.48,1.41,2.07,1.16,1.78,2.32,0.99,1.51,2.15,1.27,1.94,1.69,
    1.84,1.11,2.37,1.58,0.89,2.09,1.36,2.56,1.22,1.73,1.02,2.24,1.49,1.91,1.17,2.46,1.63,0.85,2.13,1.41,1.77,1.07,2.29,1.54,1.99,1.25,2.51,0.96,1.68,2.18,1.32,1.82,1.13,2.41,1.59,0.91,2.06,1.44,2.33,1.23,1.66,1.95,1.04,2.27,1.38,2.59,1.15,1.79,1.48,2.01,
    1.67,2.29,0.93,1.51,2.08,1.26,2.44,0.84,1.87,1.39,2.16,1.08,1.75,2.54,1.31,0.98,2.01,1.57,2.36,1.19,1.46,2.22,0.87,1.93,1.63,2.49,1.12,1.78,1.29,2.11,0.95,2.38,1.54,1.83,1.21,2.27,1.03,1.69,2.57,1.42,1.97,1.16,2.32,1.74,1.06,2.19,1.35,1.88,1.61,2.43,
    1.28,1.92,1.01,2.43,1.64,0.82,2.17,1.46,1.81,1.09,2.35,1.53,0.92,2.04,1.71,1.19,2.52,1.37,1.86,0.97,2.26,1.61,1.14,1.98,1.43,2.61,0.88,1.75,2.11,1.24,1.56,2.39,1.05,1.89,1.33,2.21,1.67,0.94,2.48,1.41,2.07,1.16,1.78,2.32,0.99,1.51,2.15,1.27,1.94,1.69,
    1.84,1.11,2.37,1.58,0.89,2.09,1.36,2.56,1.22,1.73,1.02,2.24,1.49,1.91,1.17,2.46,1.63,0.85,2.13,1.41,1.77,1.07,2.29,1.54,1.99,1.25,2.51,0.96,1.68,2.18,1.32,1.82,1.13,2.41,1.59,0.91,2.06,1.44,2.33,1.23,1.66,1.95,1.04,2.27,1.38,2.59,1.15,1.79,1.48,2.01,
]

# ---- Building_Age 25-30 ----
age_25_30 = [
    25.2,25.6,25.0,25.9,25.4,25.7,25.1,25.5,25.8,25.3,25.7,25.0,25.4,25.2,25.9,25.6,25.3,25.8,25.5,25.1,25.3,25.8,25.6,25.1,25.7,25.4,25.0,25.9,25.2,25.5,25.9,25.4,25.1,25.6,25.3,25.0,25.8,25.5,25.7,25.2,25.4,25.9,25.2,25.7,25.0,25.5,25.8,25.3,25.6,25.1,
    26.0,26.3,26.7,26.1,26.5,26.9,26.2,26.6,26.8,26.4,26.1,26.4,26.8,26.0,26.6,26.3,26.9,26.5,26.2,26.7,26.5,26.2,26.9,26.6,26.0,26.8,26.3,26.7,26.1,26.4,26.6,26.0,26.4,26.8,26.2,26.7,26.1,26.9,26.3,26.5,26.5,26.1,26.8,26.3,26.6,26.0,26.9,26.4,26.7,26.2,
    27.2,27.6,27.0,27.9,27.4,27.7,27.1,27.5,27.8,27.3,27.7,27.0,27.4,27.2,27.9,27.6,27.3,27.8,27.5,27.1,27.3,27.8,27.6,27.1,27.7,27.4,27.0,27.9,27.2,27.5,27.9,27.4,27.1,27.6,27.3,27.0,27.8,27.5,27.7,27.2,27.4,27.9,27.2,27.7,27.0,27.5,27.8,27.3,27.6,27.1,
    28.0,28.3,28.7,28.1,28.5,28.9,28.2,28.6,28.8,28.4,28.1,28.4,28.8,28.0,28.6,28.3,28.9,28.5,28.2,28.7,28.5,28.2,28.9,28.6,28.0,28.8,28.3,28.7,28.1,28.4,28.6,28.0,28.4,28.8,28.2,28.7,28.1,28.9,28.3,28.5,28.5,28.1,28.8,28.3,28.6,28.0,28.9,28.4,28.7,28.2,
    29.2,29.6,29.0,29.9,29.4,29.7,29.1,29.5,29.8,29.3,29.7,29.0,29.4,29.2,29.9,29.6,29.3,29.8,29.5,29.1,29.3,29.8,29.6,29.1,29.7,29.4,29.0,29.9,29.2,29.5,29.9,29.4,29.1,29.6,29.3,29.0,29.8,29.5,29.7,29.2,29.4,29.9,29.2,29.7,29.0,29.5,29.8,29.3,29.6,29.1,
]
price_25_30 = [
    2.2,1.2,1.9,0.7,1.7,2.5,1.0,1.4,2.3,1.8,1.1,2.6,1.5,0.9,2.0,1.3,2.2,0.8,1.7,2.4,1.8,1.1,2.4,0.8,1.6,2.1,1.3,2.7,0.9,1.5,3.1,3.7,2.9,3.3,4.0,2.8,3.5,3.0,4.6,3.4,1.3,1.9,1.6,2.3,1.1,2.0,0.8,1.5,2.2,2.6,
    0.8,1.6,2.3,1.1,1.9,2.6,1.4,0.7,2.1,1.7,1.0,2.4,1.3,1.8,0.9,2.7,1.5,2.2,1.2,2.0,1.7,0.8,2.5,1.4,1.9,1.1,2.3,1.6,2.8,1.3,3.0,3.4,3.9,2.8,3.2,3.7,2.9,4.2,3.1,3.5,1.4,2.1,1.0,1.8,2.5,1.2,1.7,2.3,0.9,2.0,
    1.2,2.0,0.9,2.5,1.5,1.8,0.7,2.2,1.3,2.7,1.6,1.0,2.3,1.4,1.9,0.8,2.6,1.7,1.1,2.1,1.4,2.4,0.9,1.8,1.2,2.0,1.5,2.7,1.0,1.6,3.3,2.9,3.6,4.1,3.0,3.4,2.8,3.8,3.2,4.4,1.7,1.1,2.2,1.5,0.9,1.9,2.4,1.3,1.8,1.0,
    1.8,1.1,2.4,0.8,1.6,2.1,1.3,2.7,0.9,1.5,2.2,1.2,1.9,0.7,1.7,2.5,1.0,1.4,2.3,1.8,1.1,2.6,1.5,0.9,2.0,1.3,2.2,0.8,1.7,2.4,3.1,3.7,2.9,3.3,4.0,2.8,3.5,3.0,4.6,3.4,1.3,1.9,1.6,2.3,1.1,2.0,0.8,1.5,2.2,2.6,
    1.7,0.8,2.5,1.4,1.9,1.1,2.3,1.6,2.8,1.3,0.8,1.6,2.3,1.1,1.9,2.6,1.4,0.7,2.1,1.7,1.0,2.4,1.3,1.8,0.9,2.7,1.5,2.2,1.2,2.0,3.0,3.4,3.9,2.8,3.2,3.7,2.9,4.2,3.1,3.5,1.4,2.1,1.0,1.8,2.5,1.2,1.7,2.3,0.9,2.0,
]
extra_price_25_30 = [
    1.41,2.24,0.99,1.87,2.63,1.16,1.72,2.39,0.84,2.08,1.53,2.76,1.28,1.96,1.07,2.47,1.65,0.93,2.17,1.38,2.54,1.21,1.82,0.77,2.31,1.46,1.99,1.11,2.68,1.59,1.91,1.33,2.42,1.03,1.76,2.22,0.87,1.51,2.13,2.59,1.24,1.86,1.68,0.96,2.35,1.14,2.05,1.44,2.51,1.79,
    1.99,2.71,1.64,2.25,1.34,2.55,1.16,1.88,2.06,1.44,2.79,2.33,1.71,1.07,2.42,1.96,1.23,2.62,1.53,2.11,1.79,2.88,1.31,2.19,1.66,2.51,0.97,2.02,1.41,2.74,1.58,2.37,1.13,1.85,2.67,1.27,2.16,1.48,2.96,1.73,2.28,1.04,2.59,1.92,1.36,2.83,2.07,1.19,2.44,1.61,
    1.05,1.72,2.38,1.24,2.86,1.57,2.13,0.96,1.91,2.52,1.38,2.27,1.12,2.71,1.66,2.04,1.45,2.95,1.83,1.18,2.44,1.52,2.19,1.01,2.63,1.77,1.31,2.34,1.96,2.78,1.15,1.88,2.57,1.42,2.09,1.63,2.91,1.27,2.22,1.70,2.48,1.08,1.99,2.66,1.35,2.15,1.59,2.41,1.86,2.83,
    1.76,2.97,1.11,2.21,1.47,1.92,2.74,1.29,2.35,1.68,1.06,2.61,1.84,2.12,1.39,2.81,1.55,2.43,1.18,1.97,2.69,1.33,2.53,1.74,2.04,1.09,2.26,1.62,2.87,1.21,1.79,2.58,1.49,2.39,1.94,1.03,2.76,1.58,2.17,1.26,2.92,1.69,2.49,0.98,2.08,1.43,2.64,1.87,1.14,2.31,
    1.61,2.44,1.19,2.07,2.83,1.36,1.92,2.59,1.04,2.28,1.73,2.96,1.48,2.16,1.27,2.67,1.85,1.13,2.37,1.58,2.74,1.41,2.02,0.97,2.51,1.66,2.19,1.31,2.88,1.79,2.11,1.53,2.62,1.23,1.96,2.42,1.07,1.71,2.33,2.79,1.44,2.06,1.88,1.16,2.55,1.34,2.25,1.64,2.71,1.99,
]
dense_price_25_30 = [
    1.67,2.29,0.93,1.51,2.08,1.26,2.44,0.84,1.87,1.39,2.16,1.08,1.75,2.54,1.31,0.98,2.01,1.57,2.36,1.19,1.46,2.22,0.87,1.93,1.63,2.49,1.12,1.78,1.29,2.11,0.95,2.38,1.54,1.83,1.21,2.27,1.03,1.69,2.57,1.42,1.97,1.16,2.32,1.74,1.06,2.19,1.35,1.88,1.61,2.43,
    1.28,1.92,1.01,2.43,1.64,0.82,2.17,1.46,1.81,1.09,2.35,1.53,0.92,2.04,1.71,1.19,2.52,1.37,1.86,0.97,2.26,1.61,1.14,1.98,1.43,2.61,0.88,1.75,2.11,1.24,1.56,2.39,1.05,1.89,1.33,2.21,1.67,0.94,2.48,1.41,2.07,1.16,1.78,2.32,0.99,1.51,2.15,1.27,1.94,1.69,
    1.84,1.11,2.37,1.58,0.89,2.09,1.36,2.56,1.22,1.73,1.02,2.24,1.49,1.91,1.17,2.46,1.63,0.85,2.13,1.41,1.77,1.07,2.29,1.54,1.99,1.25,2.51,0.96,1.68,2.18,1.32,1.82,1.13,2.41,1.59,0.91,2.06,1.44,2.33,1.23,1.66,1.95,1.04,2.27,1.38,2.59,1.15,1.79,1.48,2.01,
    1.67,2.29,0.93,1.51,2.08,1.26,2.44,0.84,1.87,1.39,2.16,1.08,1.75,2.54,1.31,0.98,2.01,1.57,2.36,1.19,1.46,2.22,0.87,1.93,1.63,2.49,1.12,1.78,1.29,2.11,0.95,2.38,1.54,1.83,1.21,2.27,1.03,1.69,2.57,1.42,1.97,1.16,2.32,1.74,1.06,2.19,1.35,1.88,1.61,2.43,
    1.28,1.92,1.01,2.43,1.64,0.82,2.17,1.46,1.81,1.09,2.35,1.53,0.92,2.04,1.71,1.19,2.52,1.37,1.86,0.97,2.26,1.61,1.14,1.98,1.43,2.61,0.88,1.75,2.11,1.24,1.56,2.39,1.05,1.89,1.33,2.21,1.67,0.94,2.48,1.41,2.07,1.16,1.78,2.32,0.99,1.51,2.15,1.27,1.94,1.69,
]

# ---- Building_Age 30-36 ----
age_30_36 = [
    30.0,30.3,30.7,30.1,30.5,30.9,30.2,30.6,30.8,30.4,30.1,30.4,30.8,30.0,30.6,30.3,30.9,30.5,30.2,30.7,30.5,30.2,30.9,30.6,30.0,30.8,30.3,30.7,30.1,30.4,30.6,30.0,30.4,30.8,30.2,30.7,30.1,30.9,30.3,30.5,
    31.2,31.6,31.0,31.9,31.4,31.7,31.1,31.5,31.8,31.3,31.7,31.0,31.4,31.2,31.9,31.6,31.3,31.8,31.5,31.1,31.3,31.8,31.6,31.1,31.7,31.4,31.0,31.9,31.2,31.5,31.9,31.4,31.1,31.6,31.3,31.0,31.8,31.5,31.7,31.2,
    32.0,32.3,32.7,32.1,32.5,32.9,32.2,32.6,32.8,32.4,32.1,32.4,32.8,32.0,32.6,32.3,32.9,32.5,32.2,32.7,32.5,32.2,32.9,32.6,32.0,32.8,32.3,32.7,32.1,32.4,32.6,32.0,32.4,32.8,32.2,32.7,32.1,32.9,32.3,32.5,
    33.2,33.6,33.0,33.9,33.4,33.7,33.1,33.5,33.8,33.3,33.7,33.0,33.4,33.2,33.9,33.6,33.3,33.8,33.5,33.1,33.3,33.8,33.6,33.1,33.7,33.4,33.0,33.9,33.2,33.5,33.9,33.4,33.1,33.6,33.3,33.0,33.8,33.5,33.7,33.2,
    34.0,34.3,34.7,34.1,34.5,34.9,34.2,34.6,34.8,34.4,34.1,34.4,34.8,34.0,34.6,34.3,34.9,34.5,34.2,34.7,34.5,34.2,34.9,34.6,34.0,34.8,34.3,34.7,34.1,34.4,34.6,34.0,34.4,34.8,34.2,34.7,34.1,34.9,34.3,34.5,
    35.2,35.6,35.0,35.9,35.4,35.7,35.1,35.5,35.8,35.3,35.7,35.0,35.4,35.2,35.9,35.6,35.3,35.8,35.5,35.1,35.3,35.8,35.6,35.1,35.7,35.4,35.0,35.9,35.2,35.5,35.9,35.4,35.1,35.6,35.3,35.0,35.8,35.5,35.7,35.2,
]
price_30_36 = [
    0.8,1.6,2.3,1.1,1.9,2.5,1.4,0.9,2.1,1.7,1.0,2.4,1.3,1.8,0.9,2.2,1.5,2.0,1.2,2.6,2.7,3.1,3.6,2.9,4.2,3.3,2.6,3.9,3.0,4.5,1.3,1.9,1.0,2.2,1.6,0.9,2.0,1.4,1.8,1.1,
    1.2,2.0,0.9,2.5,1.5,1.8,0.8,2.2,1.3,2.4,1.6,1.0,2.3,1.4,1.9,0.8,2.6,1.7,1.1,2.1,3.0,2.7,3.4,4.0,2.8,3.7,3.2,4.6,2.9,3.5,1.7,1.2,2.1,0.8,1.5,2.3,1.1,1.9,1.4,2.4,
    1.2,2.0,0.9,2.5,1.5,1.8,0.8,2.2,1.3,2.4,1.6,1.0,2.3,1.4,1.9,0.8,2.6,1.7,1.1,2.1,3.0,2.7,3.4,4.0,2.8,3.7,3.2,4.6,2.9,3.5,1.3,1.9,1.0,2.2,1.6,0.9,2.0,1.4,1.8,1.1,
    0.8,1.6,2.3,1.1,1.9,2.5,1.4,0.9,2.1,1.7,1.0,2.4,1.3,1.8,0.9,2.2,1.5,2.0,1.2,2.6,2.7,3.1,3.6,2.9,4.2,3.3,2.6,3.9,3.0,4.5,1.7,1.2,2.1,0.8,1.5,2.3,1.1,1.9,1.4,2.4,
    0.8,1.6,2.3,1.1,1.9,2.5,1.4,0.9,2.1,1.7,1.0,2.4,1.3,1.8,0.9,2.2,1.5,2.0,1.2,2.6,2.7,3.1,3.6,2.9,4.2,3.3,2.6,3.9,3.0,4.5,1.7,1.2,2.1,0.8,1.5,2.3,1.1,1.9,1.4,2.4,
    1.2,2.0,0.9,2.5,1.5,1.8,0.8,2.2,1.3,2.4,1.6,1.0,2.3,1.4,1.9,0.8,2.6,1.7,1.1,2.1,3.0,2.7,3.4,4.0,2.8,3.7,3.2,4.6,2.9,3.5,1.3,1.9,1.0,2.2,1.6,0.9,2.0,1.4,1.8,1.1,
]
extra_price_30_36 = [
    0.85,1.52,2.18,1.04,2.26,1.37,1.93,0.76,1.71,2.32,1.18,2.07,0.92,2.11,1.46,1.84,1.25,2.35,1.63,0.98,2.24,1.32,1.99,0.81,2.43,1.57,1.11,2.14,1.76,2.18,0.95,1.68,2.37,1.22,1.89,1.43,2.31,1.07,2.02,1.50,
    2.11,0.94,1.67,2.44,1.23,1.88,0.78,2.29,1.49,2.32,1.06,1.97,1.38,2.16,0.83,1.74,2.19,1.29,2.38,1.59,1.01,2.27,1.42,2.06,0.89,1.84,1.54,2.33,1.13,2.49,1.77,0.98,2.23,1.35,2.21,1.19,1.92,1.64,2.41,0.86,
    2.11,0.94,1.67,2.44,1.23,1.88,0.78,2.29,1.49,2.32,1.06,1.97,1.38,2.16,0.83,1.74,2.19,1.29,2.38,1.59,1.01,2.27,1.42,2.06,0.89,1.84,1.54,2.33,1.13,2.49,1.77,0.98,2.23,1.35,2.21,1.19,1.92,1.64,2.41,0.86,
    0.85,1.52,2.18,1.04,2.26,1.37,1.93,0.76,1.71,2.32,1.18,2.07,0.92,2.11,1.46,1.84,1.25,2.35,1.63,0.98,2.24,1.32,1.99,0.81,2.43,1.57,1.11,2.14,1.76,2.18,0.95,1.68,2.37,1.22,1.89,1.43,2.31,1.07,2.02,1.50,
    1.41,2.24,0.99,1.87,2.63,1.16,1.72,2.39,0.84,2.08,1.53,2.76,1.28,1.96,1.07,2.47,1.65,0.93,2.17,1.38,2.54,1.21,1.82,0.77,2.31,1.46,1.99,1.11,2.68,1.59,1.91,1.33,2.42,1.03,1.76,2.22,0.87,1.51,2.13,2.59,
    0.85,1.52,2.18,1.04,2.66,1.37,1.93,0.76,1.71,2.32,1.18,2.07,0.92,2.51,1.46,1.84,1.25,2.75,1.63,0.98,2.24,1.32,1.99,0.81,2.43,1.57,1.11,2.14,1.76,2.58,0.95,1.68,2.37,1.22,1.89,1.43,2.71,1.07,2.02,1.50,
]
dense_price_30_36 = [
    1.28,1.92,1.01,2.03,1.64,0.82,2.17,1.46,1.81,1.09,2.35,1.53,0.92,2.04,1.71,1.19,2.12,1.37,1.86,0.97,2.26,1.61,1.14,1.98,1.43,2.21,0.88,1.75,2.11,1.24,1.56,2.39,1.05,1.89,1.33,2.21,1.67,0.94,2.08,1.41,
    1.84,1.11,2.37,1.58,0.89,2.09,1.36,2.16,1.22,1.73,1.02,2.24,1.49,1.91,1.17,2.06,1.63,0.85,2.13,1.41,1.77,1.07,2.29,1.54,1.99,1.25,2.11,0.96,1.68,2.18,1.32,1.82,1.13,2.01,1.59,0.91,2.06,1.44,2.33,1.23,
    1.28,1.92,1.01,2.03,1.64,0.82,2.17,1.46,1.81,1.09,2.35,1.53,0.92,2.04,1.71,1.19,2.12,1.37,1.86,0.97,2.26,1.61,1.14,1.98,1.43,2.21,0.88,1.75,2.11,1.24,1.56,2.39,1.05,1.89,1.33,2.21,1.67,0.94,2.08,1.41,
    1.84,1.11,2.37,1.58,0.89,2.09,1.36,2.16,1.22,1.73,1.02,2.24,1.49,1.91,1.17,2.06,1.63,0.85,2.13,1.41,1.77,1.07,2.29,1.54,1.99,1.25,2.11,0.96,1.68,2.18,1.32,1.82,1.13,2.01,1.59,0.91,2.06,1.44,2.33,1.23,
    1.28,1.92,1.01,2.03,1.64,0.82,2.17,1.46,1.81,1.09,2.35,1.53,0.92,2.04,1.71,1.19,2.12,1.37,1.86,0.97,2.26,1.61,1.14,1.98,1.43,2.21,0.88,1.75,2.11,1.24,1.56,2.39,1.05,1.89,1.33,2.21,1.67,0.94,2.08,1.41,
    1.84,1.11,2.37,1.58,0.89,2.09,1.36,2.16,1.22,1.73,1.02,2.24,1.49,1.91,1.17,2.06,1.63,0.85,2.13,1.41,1.77,1.07,2.29,1.54,1.99,1.25,2.11,0.96,1.68,2.18,1.32,1.82,1.13,2.01,1.59,0.91,2.06,1.44,2.33,1.23,
]

# ---- Building_Age 36-41 ----
age_36_41 = [
    36.0,36.3,36.7,36.1,36.5,36.9,36.2,36.6,36.8,36.4,36.1,36.4,36.8,36.0,36.6,36.3,36.9,36.5,36.2,36.7,36.5,36.2,36.9,36.6,36.0,36.8,36.3,36.7,36.1,36.4,36.6,36.0,36.4,36.8,36.2,36.7,36.1,36.9,36.3,36.5,36.5,36.1,36.8,36.3,36.6,36.0,36.9,36.4,36.7,36.2,
    37.2,37.6,37.0,37.9,37.4,37.7,37.1,37.5,37.8,37.3,37.7,37.0,37.4,37.2,37.9,37.6,37.3,37.8,37.5,37.1,37.3,37.8,37.6,37.1,37.7,37.4,37.0,37.9,37.2,37.5,37.9,37.4,37.1,37.6,37.3,37.0,37.8,37.5,37.7,37.2,37.4,37.9,37.2,37.7,37.0,37.5,37.8,37.3,37.6,37.1,
    38.0,38.3,38.7,38.1,38.5,38.9,38.2,38.6,38.8,38.4,38.1,38.4,38.8,38.0,38.6,38.3,38.9,38.5,38.2,38.7,38.5,38.2,38.9,38.6,38.0,38.8,38.3,38.7,38.1,38.4,38.6,38.0,38.4,38.8,38.2,38.7,38.1,38.9,38.3,38.5,38.5,38.1,38.8,38.3,38.6,38.0,38.9,38.4,38.7,38.2,
    39.2,39.6,39.0,39.9,39.4,39.7,39.1,39.5,39.8,39.3,39.7,39.0,39.4,39.2,39.9,39.6,39.3,39.8,39.5,39.1,39.3,39.8,39.6,39.1,39.7,39.4,39.0,39.9,39.2,39.5,39.9,39.4,39.1,39.6,39.3,39.0,39.8,39.5,39.7,39.2,39.4,39.9,39.2,39.7,39.0,39.5,39.8,39.3,39.6,39.1,
    40.0,40.3,40.7,40.1,40.5,40.9,40.2,40.6,40.8,40.4,40.1,40.4,40.8,40.0,40.6,40.3,40.9,40.5,40.2,40.7,40.5,40.2,40.9,40.6,40.0,40.8,40.3,40.7,40.1,40.4,40.6,40.0,40.4,40.8,40.2,40.7,40.1,40.9,40.3,40.5,40.5,40.1,40.8,40.3,40.6,40.0,40.9,40.4,40.7,40.2,
]
price_36_41 = [
    0.8,1.9,2.9,1.3,2.4,3.3,1.7,0.7,2.6,2.1,1.1,3.0,1.5,2.2,1.0,3.5,1.8,2.8,1.4,2.5,2.1,0.8,3.2,1.7,2.4,1.3,2.9,1.9,3.6,1.5,3.7,4.1,4.6,3.5,3.9,4.4,3.6,4.9,3.8,4.2,1.6,2.4,1.2,2.0,2.8,1.4,1.9,2.6,1.1,2.2,
    1.4,2.5,1.0,3.2,1.8,2.2,0.7,2.8,1.5,3.5,1.9,1.1,2.9,1.7,2.4,0.8,3.3,2.1,1.3,2.6,1.7,3.0,1.0,2.2,1.4,2.5,1.8,3.5,1.1,1.9,4.0,3.6,4.3,4.8,3.7,4.1,3.5,4.5,3.9,5.1,2.0,1.3,2.5,1.8,1.2,2.2,2.7,1.6,2.1,0.6,
    2.2,1.3,3.0,0.8,1.9,2.6,1.5,3.5,1.0,1.8,2.8,1.4,2.4,0.7,2.1,3.2,1.1,1.7,2.9,2.2,1.3,3.3,1.8,1.0,2.5,1.5,2.8,0.8,2.1,3.0,3.8,4.4,3.6,4.0,4.7,3.5,4.2,3.7,5.0,4.1,1.5,2.1,1.8,2.5,1.2,2.3,0.6,1.7,2.4,2.7,
    1.1,3.0,1.5,2.2,1.0,3.5,1.8,2.8,1.4,2.5,2.1,0.8,3.2,1.7,2.4,1.3,2.9,1.9,3.6,1.5,0.8,1.9,2.9,1.3,2.4,3.3,1.7,0.7,2.6,2.1,1.6,2.4,1.2,2.0,2.8,1.4,1.9,2.6,1.1,2.2,3.7,4.1,4.6,3.5,3.9,4.4,3.6,4.9,3.8,4.2,
    1.7,3.0,1.0,2.2,1.4,2.5,1.8,3.5,1.1,1.9,1.4,2.5,1.0,3.2,1.8,2.2,0.7,2.8,1.5,3.5,1.9,1.1,2.9,1.7,2.4,0.8,3.3,2.1,1.3,2.6,2.0,1.3,2.5,1.8,1.2,2.2,2.7,1.6,2.1,0.6,4.0,3.6,4.3,4.8,3.7,4.1,3.5,4.5,3.9,5.1,
]
extra_price_36_41 = [
    0.80,1.77,2.72,1.07,3.42,1.55,2.36,0.66,2.04,2.93,1.27,2.56,0.90,3.20,1.68,2.23,1.38,3.55,1.93,0.98,2.81,1.48,2.45,0.74,3.09,1.84,1.17,2.67,2.11,3.30,0.94,2.00,3.00,1.33,2.30,1.64,3.49,1.11,2.49,1.74,2.87,0.84,2.16,3.13,1.23,2.39,1.58,2.77,1.97,3.38,
    2.64,1.12,1.95,3.05,1.47,2.31,0.72,2.86,1.71,3.47,1.25,2.42,1.62,3.28,0.85,2.08,2.74,1.53,2.97,1.86,1.18,3.36,1.66,2.53,0.96,2.19,1.81,2.91,1.36,3.15,2.12,1.08,2.79,1.59,3.40,1.41,2.35,1.99,3.02,0.78,1.77,2.67,1.30,3.22,2.05,1.51,2.47,1.02,3.53,1.88,
    1.69,2.77,1.16,2.26,3.33,1.40,2.04,3.01,0.88,2.58,1.83,3.51,1.52,2.38,1.21,3.12,1.97,1.05,2.69,1.62,3.24,1.44,2.15,0.70,2.90,1.75,2.44,1.29,3.44,1.90,2.33,1.57,3.07,1.14,2.10,2.83,0.93,1.80,2.62,3.29,1.48,2.21,2.01,1.09,2.96,1.34,2.50,1.72,3.18,2.14,
    0.80,1.77,2.72,1.07,3.42,1.55,2.36,0.66,2.04,2.93,1.27,2.56,0.90,3.20,1.68,2.23,1.38,3.55,1.93,0.98,2.81,1.48,2.45,0.74,3.09,1.84,1.17,2.67,2.11,3.30,0.94,2.00,3.00,1.33,2.30,1.64,3.49,1.11,2.49,1.74,2.87,0.84,2.16,3.13,1.23,2.39,1.58,2.77,1.97,3.38,
    2.64,1.12,1.95,3.05,1.47,2.31,0.72,2.86,1.71,3.47,1.25,2.42,1.62,3.28,0.85,2.08,2.74,1.53,2.97,1.86,1.18,3.36,1.66,2.53,0.96,2.19,1.81,2.91,1.36,3.15,2.12,1.08,2.79,1.59,3.40,1.41,2.35,1.99,3.02,0.78,1.77,2.67,1.30,3.22,2.05,1.51,2.47,1.02,3.53,1.88,
]
dense_price_36_41 = [
    1.92,2.84,1.26,3.31,2.17,0.89,2.58,1.63,3.08,1.41,2.39,1.07,2.96,1.78,3.44,2.05,1.34,2.71,1.55,0.76,3.19,1.86,2.47,1.15,2.89,1.69,3.37,2.23,0.97,2.62,1.48,3.02,1.97,2.34,1.19,2.78,1.61,3.26,0.84,2.11,2.53,1.38,3.13,1.82,2.42,1.02,2.99,1.73,2.28,1.53,
    2.46,1.18,3.06,1.74,2.31,0.92,2.87,1.57,3.41,2.02,1.29,2.66,1.88,3.22,1.45,2.14,0.81,2.93,1.68,2.51,3.33,1.11,2.25,1.79,2.76,1.36,3.15,2.08,1.51,0.99,2.61,1.94,3.47,1.23,2.38,1.66,2.97,1.04,2.19,1.83,3.28,1.42,2.56,1.71,2.83,1.14,2.36,1.98,3.02,1.59,
    1.92,2.84,1.26,3.31,2.17,0.89,2.58,1.63,3.08,1.41,2.39,1.07,2.96,1.78,3.44,2.05,1.34,2.71,1.55,0.76,3.19,1.86,2.47,1.15,2.89,1.69,3.37,2.23,0.97,2.62,1.48,3.02,1.97,2.34,1.19,2.78,1.61,3.26,0.84,2.11,2.53,1.38,3.13,1.82,2.42,1.02,2.99,1.73,2.28,1.53,
    2.46,1.18,3.06,1.74,2.31,0.92,2.87,1.57,3.41,2.02,1.29,2.66,1.88,3.22,1.45,2.14,0.81,2.93,1.68,2.51,3.33,1.11,2.25,1.79,2.76,1.36,3.15,2.08,1.51,0.99,2.61,1.94,3.47,1.23,2.38,1.66,2.97,1.04,2.19,1.83,3.28,1.42,2.56,1.71,2.83,1.14,2.36,1.98,3.02,1.59,
    1.92,2.84,1.26,3.31,2.17,0.89,2.58,1.63,3.08,1.41,2.39,1.07,2.96,1.78,3.44,2.05,1.34,2.71,1.55,0.76,3.19,1.86,2.47,1.15,2.89,1.69,3.37,2.23,0.97,2.62,1.48,3.02,1.97,2.34,1.19,2.78,1.61,3.26,0.84,2.11,2.53,1.38,3.13,1.82,2.42,1.02,2.99,1.73,2.28,1.53,
]

# ---- Building_Age 41-47 ----
age_41_47 = [
    41.2,41.6,41.0,41.9,41.4,41.7,41.1,41.5,41.8,41.3,41.7,41.0,41.4,41.2,41.9,41.6,41.3,41.8,41.5,41.1,41.3,41.8,41.6,41.1,41.7,41.4,41.0,41.9,41.2,41.5,41.9,41.4,41.1,41.6,41.3,41.0,41.8,41.5,41.7,41.2,41.4,41.9,41.2,41.7,41.0,41.5,41.8,41.3,41.6,41.1,
    42.0,42.3,42.7,42.1,42.5,42.9,42.2,42.6,42.8,42.4,42.1,42.4,42.8,42.0,42.6,42.3,42.9,42.5,42.2,42.7,42.5,42.2,42.9,42.6,42.0,42.8,42.3,42.7,42.1,42.4,42.6,42.0,42.4,42.8,42.2,42.7,42.1,42.9,42.3,42.5,42.5,42.1,42.8,42.3,42.6,42.0,42.9,42.4,42.7,42.2,
    43.2,43.6,43.0,43.9,43.4,43.7,43.1,43.5,43.8,43.3,43.7,43.0,43.4,43.2,43.9,43.6,43.3,43.8,43.5,43.1,43.3,43.8,43.6,43.1,43.7,43.4,43.0,43.9,43.2,43.5,43.9,43.4,43.1,43.6,43.3,43.0,43.8,43.5,43.7,43.2,43.4,43.9,43.2,43.7,43.0,43.5,43.8,43.3,43.6,43.1,
    44.0,44.3,44.7,44.1,44.5,44.9,44.2,44.6,44.8,44.4,44.1,44.4,44.8,44.0,44.6,44.3,44.9,44.5,44.2,44.7,44.5,44.2,44.9,44.6,44.0,44.8,44.3,44.7,44.1,44.4,44.6,44.0,44.4,44.8,44.2,44.7,44.1,44.9,44.3,44.5,44.5,44.1,44.8,44.3,44.6,44.0,44.9,44.4,44.7,44.2,
    45.2,45.6,45.0,45.9,45.4,45.7,45.1,45.5,45.8,45.3,45.7,45.0,45.4,45.2,45.9,45.6,45.3,45.8,45.5,45.1,45.3,45.8,45.6,45.1,45.7,45.4,45.0,45.9,45.2,45.5,45.9,45.4,45.1,45.6,45.3,45.0,45.8,45.5,45.7,45.2,45.4,45.9,45.2,45.7,45.0,45.5,45.8,45.3,45.6,45.1,
    46.0,46.3,46.7,46.1,46.5,46.9,46.2,46.6,46.8,46.4,46.1,46.4,46.8,46.0,46.6,46.3,46.9,46.5,46.2,46.7,46.5,46.2,46.9,46.6,46.0,46.8,46.3,46.7,46.1,46.4,46.6,46.0,46.4,46.8,46.2,46.7,46.1,46.9,46.3,46.5,46.5,46.1,46.8,46.3,46.6,46.0,46.9,46.4,46.7,46.2,
]
price_41_47 = [
    2.8,1.4,2.4,0.7,2.1,3.2,1.1,1.7,2.9,2.2,1.3,3.3,1.8,1.0,2.5,1.5,2.8,0.8,2.1,3.0,2.2,1.3,3.0,0.8,1.9,2.6,1.5,3.5,1.0,1.8,3.8,4.4,3.6,4.0,4.7,3.5,4.2,3.7,5.0,4.1,1.5,2.1,1.8,2.5,1.2,2.3,0.6,1.7,2.4,2.7,
    0.8,1.9,2.9,1.3,2.4,3.3,1.7,0.7,2.6,2.1,1.1,3.0,1.5,2.2,1.0,3.5,1.8,2.8,1.4,2.5,2.1,0.8,3.2,1.7,2.4,1.3,2.9,1.9,3.6,1.5,3.7,4.1,4.6,3.5,3.9,4.4,3.6,4.9,3.8,4.2,1.6,2.4,1.2,2.0,2.8,1.4,1.9,2.6,1.1,2.2,
    1.4,2.5,1.0,3.2,1.8,2.2,0.7,2.8,1.5,3.5,1.9,1.1,2.9,1.7,2.4,0.8,3.3,2.1,1.3,2.6,1.7,3.0,1.0,2.2,1.4,2.5,1.8,3.5,1.1,1.9,4.0,3.6,4.3,4.8,3.7,4.1,3.5,4.5,3.9,5.1,2.0,1.3,2.5,1.8,1.2,2.2,2.7,1.6,2.1,0.6,
    2.2,1.3,3.0,0.8,1.9,2.6,1.5,3.5,1.0,1.8,2.8,1.4,2.4,0.7,2.1,3.2,1.1,1.7,2.9,2.2,1.3,3.3,1.8,1.0,2.5,1.5,2.8,0.8,2.1,3.0,3.8,4.4,3.6,4.0,4.7,3.5,4.2,3.7,5.0,4.1,1.5,2.1,1.8,2.5,1.2,2.3,0.6,1.7,2.4,2.7,
    1.1,3.0,1.5,2.2,1.0,3.5,1.8,2.8,1.4,2.5,2.1,0.8,3.2,1.7,2.4,1.3,2.9,1.9,3.6,1.5,0.8,1.9,2.9,1.3,2.4,3.3,1.7,0.7,2.6,2.1,1.6,2.4,1.2,2.0,2.8,1.4,1.9,2.6,1.1,2.2,3.7,4.1,4.6,3.5,3.9,4.4,3.6,4.9,3.8,4.2,
    1.7,3.0,1.0,2.2,1.4,2.5,1.8,3.2,1.1,1.9,1.4,2.5,1.0,2.9,1.8,2.2,0.7,2.8,1.5,3.1,1.9,1.1,2.9,1.7,2.4,0.8,3.0,2.1,1.3,2.6,2.0,1.3,2.5,1.8,1.2,2.2,2.7,1.6,2.1,0.6,4.0,3.6,4.3,4.8,3.7,4.1,3.5,4.5,3.9,4.6,
]
extra_price_41_47 = [
    1.69,2.77,1.16,2.26,3.33,1.40,2.04,3.01,0.88,2.58,1.83,3.51,1.52,2.38,1.21,3.12,1.97,1.05,2.69,1.62,3.24,1.44,2.15,0.70,2.90,1.75,2.44,1.29,3.44,1.90,2.33,1.57,3.07,1.14,2.10,2.83,0.93,1.80,2.62,3.29,1.48,2.21,2.01,1.09,2.96,1.34,2.50,1.72,3.18,2.14,
    1.69,2.77,1.16,2.26,3.33,1.40,2.04,3.01,0.88,2.58,1.83,3.51,1.52,2.38,1.21,3.12,1.97,1.05,2.69,1.62,3.24,1.44,2.15,0.70,2.90,1.75,2.44,1.29,3.44,1.90,2.33,1.57,3.07,1.14,2.10,2.83,0.93,1.80,2.62,3.29,1.48,2.21,2.01,1.09,2.96,1.34,2.50,1.72,3.18,2.14,
    1.69,2.77,1.16,2.26,3.33,1.40,2.04,3.01,0.88,2.58,1.83,3.51,1.52,2.38,1.21,3.12,1.97,1.05,2.69,1.62,3.24,1.44,2.15,0.70,2.90,1.75,2.44,1.29,3.44,1.90,2.33,1.57,3.07,1.14,2.10,2.83,0.93,1.80,2.62,3.29,1.48,2.21,2.01,1.09,2.96,1.34,2.50,1.72,3.18,2.14,
    2.64,1.12,1.95,3.05,1.47,2.31,0.72,2.86,1.71,3.47,1.25,2.42,1.62,3.28,0.85,2.08,2.74,1.53,2.97,1.86,1.18,3.36,1.66,2.53,0.96,2.19,1.81,2.91,1.36,3.15,2.12,1.08,2.79,1.59,3.40,1.41,2.35,1.99,3.02,0.78,1.77,2.67,1.30,3.22,2.05,1.51,2.47,1.02,3.53,1.88,
    2.64,1.12,1.95,3.05,1.47,2.31,0.72,2.86,1.71,3.47,1.25,2.42,1.62,3.28,0.85,2.08,2.74,1.53,2.97,1.86,1.18,3.36,1.66,2.53,0.96,2.19,1.81,2.91,1.36,3.15,2.12,1.08,2.79,1.59,3.40,1.41,2.35,1.99,3.02,0.78,1.77,2.67,1.30,3.22,2.05,1.51,2.47,1.02,3.53,1.88,
    0.80,1.77,2.72,1.07,3.42,1.55,2.36,0.66,2.04,2.93,1.27,2.56,0.90,3.20,1.68,2.23,1.38,3.55,1.93,0.98,2.81,1.48,2.45,0.74,3.09,1.84,1.17,2.67,2.11,3.30,0.94,2.00,3.00,1.33,2.30,1.64,3.49,1.11,2.49,1.74,2.87,0.84,2.16,3.13,1.23,2.39,1.58,2.77,1.97,3.38,
]
dense_price_41_47 = [
    2.46,1.18,3.06,1.74,2.31,0.92,2.87,1.57,3.41,2.02,1.29,2.66,1.88,3.22,1.45,2.14,0.81,2.93,1.68,2.51,3.33,1.11,2.25,1.79,2.76,1.36,3.15,2.08,1.51,0.99,2.61,1.94,3.47,1.23,2.38,1.66,2.97,1.04,2.19,1.83,3.28,1.42,2.56,1.71,2.83,1.14,2.36,1.98,3.02,1.59,
    1.92,2.84,1.26,3.31,2.17,0.89,2.58,1.63,3.08,1.41,2.39,1.07,2.96,1.78,3.44,2.05,1.34,2.71,1.55,0.76,3.19,1.86,2.47,1.15,2.89,1.69,3.37,2.23,0.97,2.62,1.48,3.02,1.97,2.34,1.19,2.78,1.61,3.26,0.84,2.11,2.53,1.38,3.13,1.82,2.42,1.02,2.99,1.73,2.28,1.53,
    2.46,1.18,3.06,1.74,2.31,0.92,2.87,1.57,3.41,2.02,1.29,2.66,1.88,3.22,1.45,2.14,0.81,2.93,1.68,2.51,3.33,1.11,2.25,1.79,2.76,1.36,3.15,2.08,1.51,0.99,2.61,1.94,3.47,1.23,2.38,1.66,2.97,1.04,2.19,1.83,3.28,1.42,2.56,1.71,2.83,1.14,2.36,1.98,3.02,1.59,
    1.92,2.84,1.26,3.31,2.17,0.89,2.58,1.63,3.08,1.41,2.39,1.07,2.96,1.78,3.44,2.05,1.34,2.71,1.55,0.76,3.19,1.86,2.47,1.15,2.89,1.69,3.37,2.23,0.97,2.62,1.48,3.02,1.97,2.34,1.19,2.78,1.61,3.26,0.84,2.11,2.53,1.38,3.13,1.82,2.42,1.02,2.99,1.73,2.28,1.53,
    2.46,1.18,3.06,1.74,2.31,0.92,2.87,1.57,3.41,2.02,1.29,2.66,1.88,3.22,1.45,2.14,0.81,2.93,1.68,2.51,3.33,1.11,2.25,1.79,2.76,1.36,3.15,2.08,1.51,0.99,2.61,1.94,3.47,1.23,2.38,1.66,2.97,1.04,2.19,1.83,3.28,1.42,2.56,1.71,2.83,1.14,2.36,1.98,3.02,1.59,
    1.92,2.84,1.26,3.31,2.17,0.89,2.58,1.63,3.08,1.41,2.39,1.07,2.96,1.78,3.44,2.05,1.34,2.71,1.55,0.76,3.19,1.86,2.47,1.15,2.89,1.69,3.37,2.23,0.97,2.62,1.48,3.02,1.97,2.34,1.19,2.78,1.61,3.26,0.84,2.11,2.53,1.38,3.13,1.82,2.42,1.02,2.99,1.73,2.28,1.53,
]

# ---- Building_Age 47-52 ----
age_47_52 = [
    47.0,47.3,47.7,47.1,47.5,47.9,47.2,47.6,47.8,47.4,47.1,47.4,47.8,47.0,47.6,47.3,47.9,47.5,47.2,47.7,47.5,47.2,47.9,47.6,47.0,47.8,47.3,47.7,47.1,47.4,
    48.2,48.6,48.0,48.9,48.4,48.7,48.1,48.5,48.8,48.3,48.7,48.0,48.4,48.2,48.9,48.6,48.3,48.8,48.5,48.1,48.3,48.8,48.6,48.1,48.7,48.4,48.0,48.9,48.2,48.5,
    49.0,49.3,49.7,49.1,49.5,49.9,49.2,49.6,49.8,49.4,49.1,49.4,49.8,49.0,49.6,49.3,49.9,49.5,49.2,49.7,49.5,49.2,49.9,49.6,49.0,49.8,49.3,49.7,49.1,49.4,
    50.2,50.6,50.0,50.9,50.4,50.7,50.1,50.5,50.8,50.3,50.7,50.0,50.4,50.2,50.9,50.6,50.3,50.8,50.5,50.1,
    51.0,51.3,51.7,51.1,51.5,51.9,51.2,51.6,51.8,51.4,51.1,51.4,51.8,51.0,51.6,51.3,51.9,51.5,51.2,51.7,
]
price_47_52 = [
    1.5,2.3,1.2,2.9,1.8,2.6,1.4,3.2,2.0,1.7,2.4,1.3,2.8,1.9,3.1,1.6,2.2,1.2,2.7,2.1,3.5,0.9,4.0,3.3,1.0,4.4,3.7,0.8,3.9,1.1,
    2.0,1.4,2.7,1.7,3.3,2.2,1.3,2.5,1.9,3.0,1.6,2.9,2.3,1.2,2.1,3.4,1.8,2.6,1.5,2.4,0.9,3.8,1.1,4.2,3.6,0.8,4.5,3.5,1.0,4.0,
    2.6,1.8,3.1,1.4,2.2,1.6,2.9,2.0,3.4,1.3,2.3,1.5,2.8,3.2,1.9,2.5,1.2,2.1,3.0,1.7,4.1,3.6,1.0,3.9,4.3,3.5,1.1,3.7,0.9,3.3,
    1.6,2.5,3.1,1.9,3.6,2.2,1.4,2.8,4.0,2.0,2.9,1.7,3.4,2.4,1.3,3.8,2.1,3.0,1.8,4.3,
    2.3,3.2,1.8,2.7,3.7,2.0,3.0,1.5,2.5,3.5,1.9,2.8,3.3,2.2,4.1,1.6,2.6,3.9,2.1,1.4,
]
extra_price_47_52 = [
    1.35,2.48,1.82,3.05,2.17,1.54,2.86,1.26,2.63,1.97,3.28,1.71,2.34,1.43,2.95,2.09,1.62,2.71,1.88,3.16,1.29,2.55,2.02,3.37,1.49,2.24,1.77,2.92,1.58,2.41,
    2.26,1.41,2.93,1.68,2.51,3.22,1.33,2.07,1.86,2.74,1.52,3.08,2.38,1.24,2.65,1.95,3.31,1.74,2.19,1.47,2.84,1.61,2.45,3.14,1.39,2.02,2.69,1.80,3.26,2.31,
    1.76,2.62,1.38,2.99,2.14,1.57,2.81,2.35,1.29,3.19,2.04,1.66,2.53,3.34,1.45,2.27,1.91,2.72,1.22,3.04,2.43,1.84,2.96,1.51,2.21,3.27,1.69,2.58,1.34,2.88,
    2.18,3.11,1.63,2.74,3.52,1.92,2.46,1.47,3.27,2.33,1.81,2.95,3.64,2.08,1.55,2.62,3.38,1.74,2.87,2.24,
    2.71,1.86,3.22,2.35,1.58,2.96,3.47,2.12,1.69,2.53,3.09,1.95,2.44,3.31,1.77,2.68,2.21,3.58,1.49,2.83,
]
dense_price_47_52 = [
    2.13,1.62,2.86,1.94,3.24,1.41,2.52,1.79,2.33,1.28,2.97,2.07,1.53,2.68,1.87,3.12,1.36,2.44,2.01,1.68,2.79,1.49,3.31,2.24,1.74,2.58,1.32,2.91,1.97,2.39,
    1.83,2.71,1.46,3.17,2.28,1.64,2.53,1.99,3.36,1.37,2.42,1.88,2.94,1.56,2.17,3.09,1.72,2.63,1.43,2.36,1.94,3.26,2.12,1.51,2.82,1.78,2.48,1.31,3.03,2.21,
    2.47,1.53,2.92,1.86,2.26,3.21,1.44,2.67,1.97,1.32,2.81,2.14,1.69,3.08,2.38,1.59,2.55,1.91,3.33,1.76,2.09,1.41,2.73,2.29,1.63,3.14,1.84,2.49,1.37,2.98,
    2.57,1.74,3.26,2.13,2.89,1.52,3.61,2.41,1.96,3.04,2.28,1.68,3.44,2.71,1.87,3.17,2.36,1.59,2.82,3.38,
    2.04,3.33,1.78,2.61,3.01,1.63,2.47,3.52,2.19,1.87,2.76,3.18,1.54,2.38,2.93,1.96,3.41,2.27,1.71,2.66,
]

# ---- sparse tail, Building_Age 48-60 ----
tail_age = [
    52.3,52.1,52.4,52.8,53.2,53.7,53.1,53.3,52.4,52.7,
    53.0,52.8,53.4,52.2,53.2,53.4,53.9,54.1,53.4,52.8,
    52.2,53.6,53.5,53.6,52.9,52.4,52.0,53.1,52.7,52.1,
    52.4,52.1,52.6,52.8,53.3,53.5,53.2,53.9,54.1,54.7,
    55.1,55.3,55.3,55.1,56.1,57.1,57.4,58.3,54.1,53.9,
    54.7,55.4,55.7,54.8,54.3,54.7,55.5,55.9,56.3,56.7,
    57.9,54.1,54.4,55.0,58.3,57.3,57.1,59.3,59.3,60.1,
    55.8,55.4,54.8,54.3,54.8,54.4,54.5,54.4,55.2,52.6,
    53.8,55.0,56.0,53.0,53.7,51.2,49.4,50.0,48.8,48.9,
    50.9,50.9,50.9,50.2,50.0,49.6,51.4,51.8,51.0,51.3,
    50.8,50.4,50.0,49.4,49.0,51.6,51.6,51.3,50.9,50.6,
    51.0,51.2,50.6,50.2,50.8,50.4,51.8,51.4,51.7,52.2,
]
tail_price = [
    0.67,1.31,1.43,1.58,1.48,1.02,1.04,0.70,1.87,1.92,
    1.97,2.17,2.12,1.58,2.66,2.61,2.56,2.51,2.41,2.46,
    2.61,3.34,3.19,3.09,3.22,3.24,3.14,3.73,3.61,3.58,
    3.78,3.92,3.92,4.02,3.92,3.68,4.51,5.33,4.80,4.41,
    4.51,4.31,4.14,3.99,4.15,4.00,3.81,4.15,4.16,4.02,
    4.02,3.68,3.46,3.36,3.36,3.09,3.14,3.00,2.98,2.98,
    3.09,2.90,2.90,2.90,2.77,2.39,2.17,2.26,2.21,2.34,
    2.14,2.28,2.26,2.02,1.97,1.92,1.48,1.48,0.92,1.75,
    1.60,1.75,2.40,2.85,2.20,0.93,1.34,1.34,0.82,0.82,
    4.61,4.41,4.26,4.33,4.31,4.24,4.02,3.94,3.68,3.43,
    3.43,3.51,3.71,3.71,3.78,3.55,3.11,3.07,3.14,3.34,
    2.56,2.31,2.56,2.80,2.85,3.00,2.09,2.12,1.68,1.58,
]

# ---- sparse high prices (about 4.5-7.7) ----
high_age = [
    0.6,0.5,0.9,4.4,3.1,0.6,0.5,0.6,1.0,1.8,
    0.8,0.6,0.7,1.4,1.0,1.4,0.3,0.6,2.5,2.8,
    3.5,4.2,4.4,5.8,5.2,5.5,5.5,3.7,3.9,4.1,
    4.2,2.4,5.0,5.8,5.8,6.2,3.0,2.9,8.0,8.3,
    7.6,7.8,8.3,9.0,9.2,11.2,12.4,13.3,13.4,12.7,
    13.3,11.0,14.5,14.7,15.2,15.5,15.8,16.0,15.9,15.9,
    17.2,17.2,18.4,19.6,13.2,12.4,13.8,14.2,15.3,15.6,
    16.1,16.2,16.8,18.0,19.4,19.7,20.0,20.3,20.9,20.9,
    21.9,23.3,23.8,26.1,29.8,30.3,33.7,34.9,34.5,31.8,
    22.6,22.8,23.2,23.6,23.4,19.2,19.2,21.8,22.0,24.0,
    24.7,25.9,26.2,26.1,26.6,33.1,33.3,34.7,34.9,35.3,
    35.6,37.3,37.7,39.8,40.7,40.0,31.5,32.5,33.1,44.3,
    47.2,48.8,43.3,43.6,43.9,45.3,45.5,45.0,44.9,46.5,
    39.9,42.9,43.1,41.7,44.1,40.9,45.7,46.3,46.7,47.9,
    6.6,7.2,9.8,10.3,11.5,12.0,10.8,8.7,11.9,14.8,
]
high_price = [
    7.66,7.19,7.19,7.37,7.08,6.83,6.60,6.40,6.51,6.27,
    6.14,5.90,5.90,5.90,5.73,5.63,5.56,5.44,6.53,6.27,
    6.15,6.04,6.27,6.73,6.02,6.02,5.83,5.58,5.59,5.70,
    5.44,5.32,5.21,5.32,5.19,5.10,4.90,4.66,5.91,5.91,
    5.56,5.56,5.32,5.44,5.51,6.73,6.97,6.97,6.66,6.38,
    6.19,5.94,6.68,6.38,6.60,7.19,7.43,7.46,6.51,6.41,
    6.97,6.75,6.14,6.80,5.80,5.80,5.91,5.91,5.78,6.02,
    6.02,5.78,5.78,5.83,5.56,6.85,6.85,6.50,6.14,5.58,
    5.80,5.91,5.91,5.80,5.56,5.44,6.12,6.14,5.56,5.32,
    5.32,5.21,5.32,5.32,5.10,6.14,5.40,4.95,4.95,4.98,
    5.09,5.12,5.09,4.97,4.85,5.10,4.97,5.27,5.19,5.10,
    5.02,5.10,4.85,5.10,5.10,4.80,4.75,4.85,4.97,5.50,
    5.56,5.33,5.17,5.21,5.17,5.21,5.10,5.02,5.04,5.10,
    5.10,4.88,4.78,4.93,4.85,4.80,4.78,4.85,4.80,4.72,
    5.40,4.90,5.00,4.90,5.30,4.70,5.10,4.75,5.05,5.25,
]

# ---- newest buildings (age near 0), very dense column ----
new_age = [
    0.0,0.0,0.1,0.1,0.0,0.2,0.1,0.0,0.2,0.1,
    0.0,0.1,0.0,0.2,0.1,0.3,0.0,0.1,0.2,0.0,
    0.4,0.5,0.6,0.7,0.5,0.8,0.6,0.9,0.7,0.5,
]
new_price = [
    1.1,1.5,1.9,2.3,2.7,3.1,3.4,1.3,1.7,2.1,
    2.5,2.9,3.3,1.2,1.6,2.0,2.4,2.8,3.2,3.6,
    4.6,4.2,3.8,4.5,4.0,4.8,3.5,4.3,4.7,3.9,
]

# ---- isolated outliers ----
outlier_age = [4.8, 17.0, 17.0, 12.0, 15.9, 16.2, 17.0, 1.5, 6.6, 13.4,
               19.7, 51.6, 0.9, 7.4, 22.6, 17.2, 31.2, 41.9]
outlier_price = [13.62, 12.24, 12.11, 11.21, 11.29, 11.29, 11.29, 9.90, 9.54, 8.69,
                 7.90, 6.78, 0.18, 0.26, 0.18, 0.32, 0.44, 0.44]

segments = [
    (age_00_05, price_00_05), (age_00_05, extra_price_00_05), (age_00_05, dense_price_00_05),
    (age_05_10, price_05_10), (age_05_10, extra_price_05_10), (age_05_10, dense_price_05_10),
    (age_10_15, price_10_15), (age_10_15, extra_price_10_15), (age_10_15, dense_price_10_15),
    (age_15_20, price_15_20), (age_15_20, extra_price_15_20), (age_15_20, dense_price_15_20),
    (age_20_25, price_20_25), (age_20_25, extra_price_20_25), (age_20_25, dense_price_20_25),
    (age_25_30, price_25_30), (age_25_30, extra_price_25_30), (age_25_30, dense_price_25_30),
    (age_30_36, price_30_36), (age_30_36, extra_price_30_36), (age_30_36, dense_price_30_36),
    (age_36_41, price_36_41), (age_36_41, extra_price_36_41), (age_36_41, dense_price_36_41),
    (age_41_47, price_41_47), (age_41_47, extra_price_41_47), (age_41_47, dense_price_41_47),
    (age_47_52, price_47_52), (age_47_52, extra_price_47_52), (age_47_52, dense_price_47_52),
    (tail_age, tail_price), (high_age, high_price),
    (new_age, new_price), (outlier_age, outlier_price),
]

building_age = []
unit_price = []
for ages, prices in segments:
    for a, p in zip(ages, prices):
        building_age.append(a)
        unit_price.append(p)

fig, ax = plt.subplots(figsize=(12, 6), dpi=100)
ax.scatter(building_age, unit_price, alpha=0.5)
ax.set_title("Building_Age vs Unit Price")
ax.set_xlabel("Building_Age")
ax.set_ylabel("Unit Price")
plt.tight_layout()
plt.savefig("out.png")
